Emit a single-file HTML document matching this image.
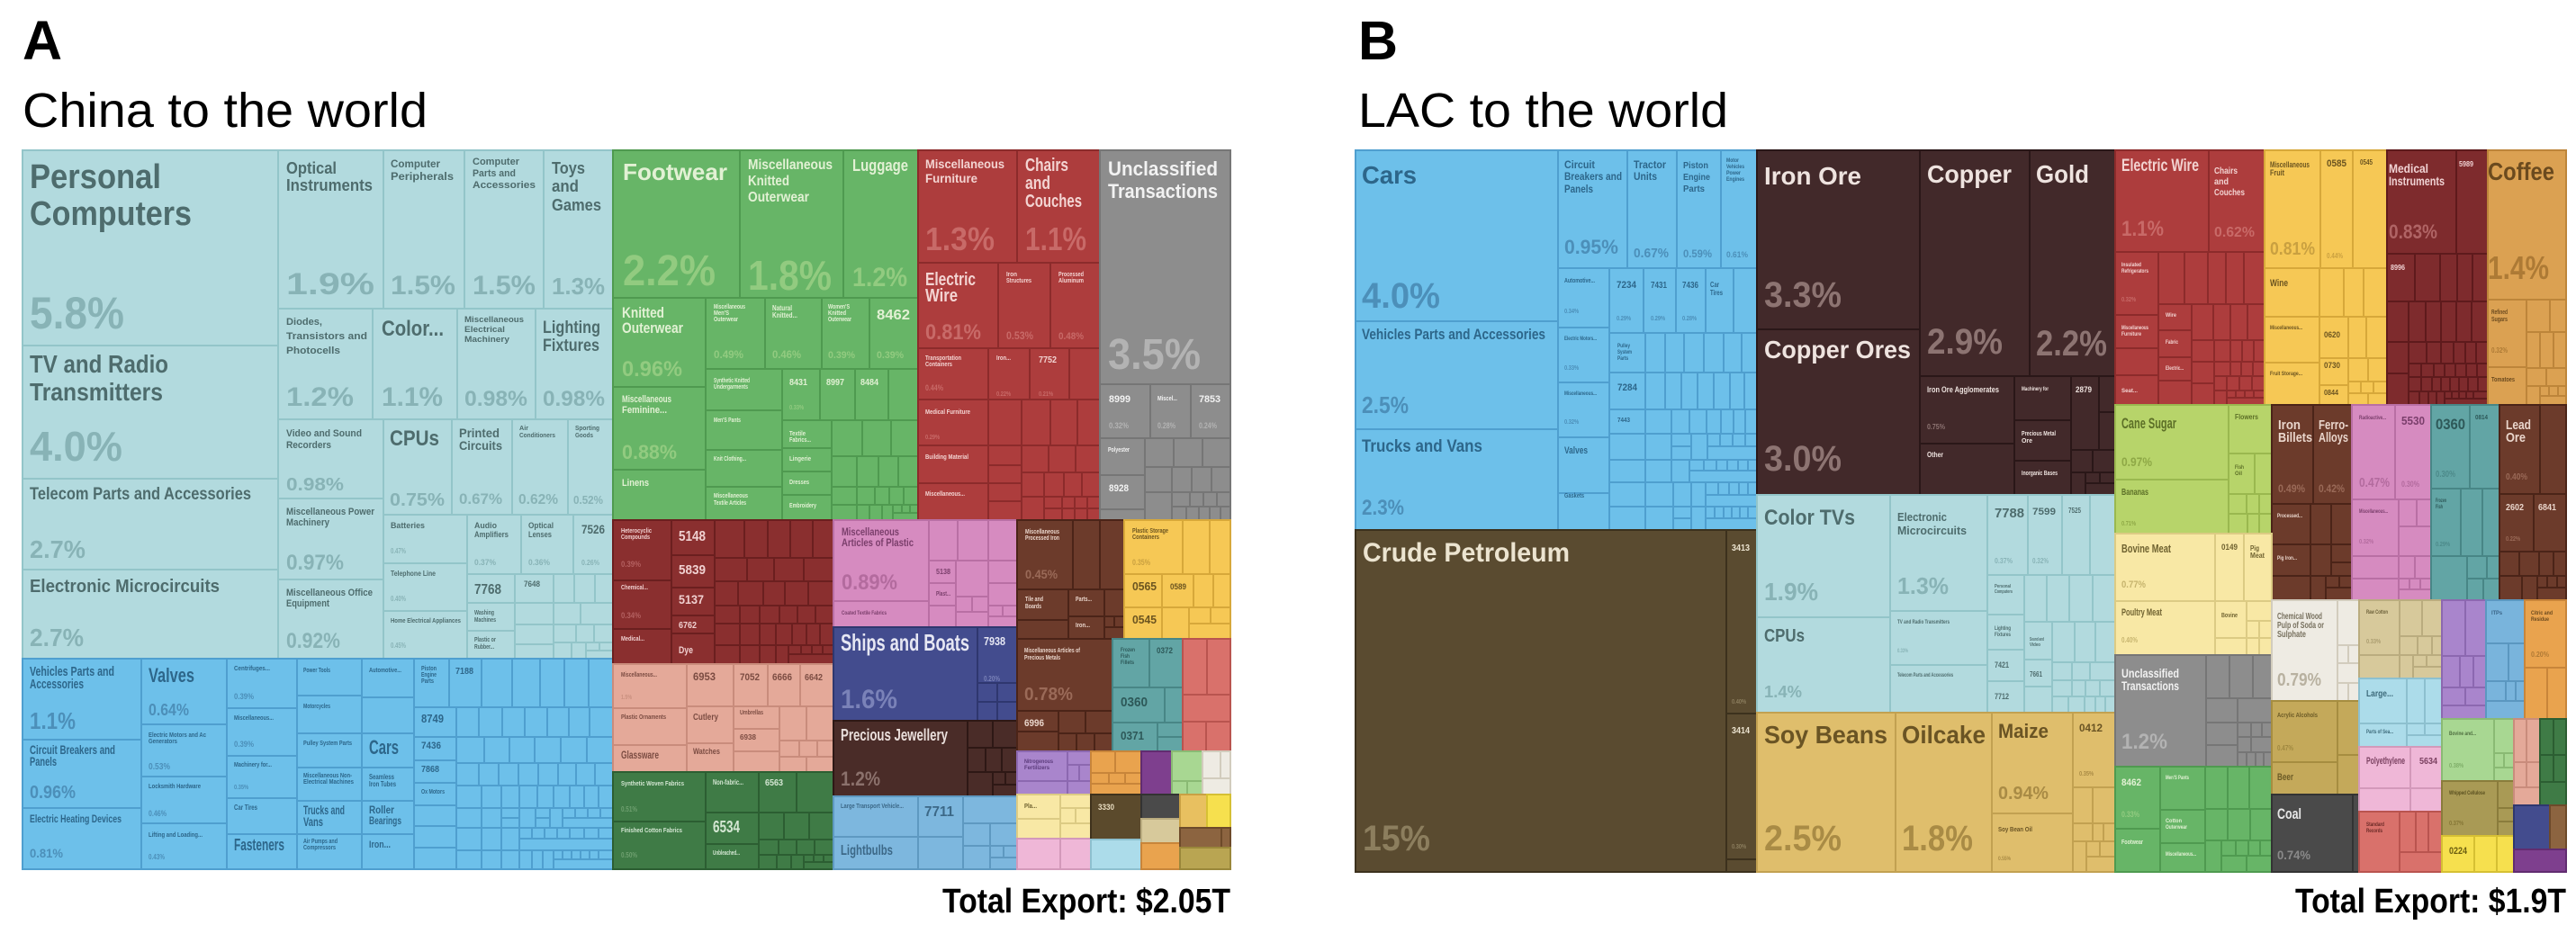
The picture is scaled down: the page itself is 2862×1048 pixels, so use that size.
<!DOCTYPE html>
<html><head><meta charset="utf-8">
<style>
html,body{margin:0;padding:0;background:#fff;}
svg{display:block}
rect{stroke-width:2}
text{font-family:"Liberation Sans","DejaVu Sans",sans-serif;font-weight:700}
.tt text{fill:#000}
.t rect{fill:#b2dade;stroke:#93c5c9}.t text{fill:#4e6c6d}.t text.p{fill:#88b3b6}
.b rect{fill:#6dc0ea;stroke:#4f9fcf}.b text{fill:#2d668a}.b text.p{fill:#4c8fb9}
.g rect{fill:#67b567;stroke:#4f9a50}.g text{fill:#e2f1d4}.g text.p{fill:#92cb80}
.r rect{fill:#ad3d3d;stroke:#8c2b2b}.r text{fill:#f3d4d2}.r text.p{fill:#c86a68}
.y rect{fill:#8d8d8d;stroke:#767676}.y text{fill:#f2f2f2}.y text.p{fill:#b3b3b3}
.dr rect{fill:#8a2f2f;stroke:#6b1f1f}.dr text{fill:#f0d0d0}.dr text.p{fill:#b36060}
.sa rect{fill:#e4a999;stroke:#c98c7c}.sa text{fill:#7b4c42}.sa text.p{fill:#c9907f}
.dg rect{fill:#3f7b46;stroke:#2c5e32}.dg text{fill:#d3e6d2}.dg text.p{fill:#6fa070}
.pk rect{fill:#d68bc0;stroke:#b96fa4}.pk text{fill:#7a3e6b}.pk text.p{fill:#b36b9e}
.nv rect{fill:#434c8e;stroke:#2f376f}.nv text{fill:#e6e7f3}.nv text.p{fill:#7a82b8}
.jw rect{fill:#4a2c28;stroke:#2e1815}.jw text{fill:#eadfdc}.jw text.p{fill:#8b716c}
.lb rect{fill:#7db7de;stroke:#5e99c1}.lb text{fill:#3c6887}.lb text.p{fill:#5f97bf}
.br rect{fill:#6c3b2b;stroke:#4b2418}.br text{fill:#ead6cc}.br text.p{fill:#9a6a58}
.ye rect{fill:#f6c855;stroke:#d7a83a}.ye text{fill:#6b5420}.ye text.p{fill:#c9a040}
.ft rect{fill:#62a5a5;stroke:#488686}.ft text{fill:#2d5858}.ft text.p{fill:#4d8a8a}
.sr rect{fill:#d9716b;stroke:#b9544f}.sr text{fill:#6a2a26}
.lv rect{fill:#a985cc;stroke:#8c68b0}.lv text{fill:#5a3a7a}
.or rect{fill:#e9a34e;stroke:#c8853a}.or text{fill:#6b4a1e}.or text.p{fill:#b07a35}
.pu rect{fill:#7e3f8e;stroke:#612c70}
.lg rect{fill:#a8d792;stroke:#8aba74}.lg text{fill:#4f6f40}.lg text.p{fill:#7fae69}
.ow rect{fill:#eeebe3;stroke:#d2ccbd}.ow text{fill:#77705e}.ow text.p{fill:#b8b1a0}
.py rect{fill:#f8e8a5;stroke:#dccb84}.py text{fill:#6f6230}.py text.p{fill:#c6b46e}
.lp rect{fill:#efb7d7;stroke:#d399ba}.lp text{fill:#7a4060}
.do rect{fill:#5b4a2c;stroke:#3f321c}.do text{fill:#e8dcc0}
.la rect{fill:#acdcea;stroke:#8dc0cf}.la text{fill:#3d6a7a}
.dk rect{fill:#4a4a4a;stroke:#333}.dk text{fill:#e6e6e6}.dk text.p{fill:#8a8a8a}
.kh rect{fill:#d7c99b;stroke:#baac7f}.kh text{fill:#6b5f38}.kh text.p{fill:#ab9d70}
.go rect{fill:#e8c060;stroke:#c9a144}
.yb rect{fill:#f6e04e;stroke:#d6c033}.yb text{fill:#6b5e10}
.bn rect{fill:#8c6440;stroke:#6d4a2a}
.ol rect{fill:#b9a552;stroke:#9a873a}
.io rect{fill:#42292a;stroke:#2a1718}.io text{fill:#eee3df}.io text.p{fill:#8d7472}
.cp rect{fill:#5a4b30;stroke:#3c311d}.cp text{fill:#ece4d0}.cp text.p{fill:#8c7e5e}
.tn rect{fill:#dfbe6c;stroke:#c2a151}.tn text{fill:#6a5424}.tn text.p{fill:#a98b45}
.md rect{fill:#7e2b2d;stroke:#5e1a1c}.md text{fill:#f0d2d3}.md text.p{fill:#b06465}
.cf rect{fill:#dba152;stroke:#bd853a}.cf text{fill:#6b4a1e}.cf text.p{fill:#ad7a35}
.cs rect{fill:#b7d46a;stroke:#9ab84f}.cs text{fill:#5c6f27}.cs text.p{fill:#8ea846}
.ot rect{fill:#c4a95a;stroke:#a68d40}.ot text{fill:#6d5c27}.ot text.p{fill:#9f8840}
.ok rect{fill:#a99a55;stroke:#8a7c3c}.ok text{fill:#5a5020}.ok text.p{fill:#857636}
.mb rect{fill:#79b4dc;stroke:#5b97c0}.mb text{fill:#3a6487}
</style></head>
<body>
<svg width="2862" height="1048" viewBox="0 0 2862 1048" xmlns="http://www.w3.org/2000/svg">
<rect x="0" y="0" width="2862" height="1048" fill="#fff" stroke="none"/>

<!-- TITLES -->
<g class="tt">
<text x="25" y="66" font-size="61">A</text>
<text x="25" y="141" font-size="54" font-weight="400" style="font-weight:400" textLength="450" lengthAdjust="spacingAndGlyphs">China to the world</text>
<text x="1509" y="66" font-size="61">B</text>
<text x="1509" y="141" font-size="54" style="font-weight:400" textLength="411" lengthAdjust="spacingAndGlyphs">LAC to the world</text>
<text x="1047" y="1014" font-size="38" textLength="320" lengthAdjust="spacingAndGlyphs">Total Export: $2.05T</text>
<text x="2550" y="1014" font-size="38" textLength="301" lengthAdjust="spacingAndGlyphs">Total Export: $1.9T</text>
</g>

<!-- ================= LEFT TREEMAP ================= -->
<!-- Teal -->
<g class="t">
<rect x="25" y="167" width="284" height="217"/>
<rect x="25" y="384" width="284" height="148"/>
<rect x="25" y="532" width="284" height="101"/>
<rect x="25" y="633" width="284" height="99"/>
<rect x="309" y="167" width="117" height="176"/>
<rect x="426" y="167" width="90" height="176"/>
<rect x="516" y="167" width="88" height="176"/>
<rect x="604" y="167" width="77" height="176"/>
<rect x="309" y="343" width="105" height="123"/>
<rect x="414" y="343" width="94" height="123"/>
<rect x="508" y="343" width="87" height="123"/>
<rect x="595" y="343" width="86" height="123"/>
<rect x="309" y="466" width="117" height="88"/>
<rect x="309" y="554" width="117" height="90"/>
<rect x="309" y="644" width="117" height="88"/>
<rect x="426" y="466" width="76" height="106"/>
<rect x="502" y="466" width="67" height="106"/>
<rect x="569" y="466" width="62" height="106"/>
<rect x="631" y="466" width="50" height="106"/>
<rect x="426" y="572" width="93" height="54"/>
<rect x="426" y="626" width="93" height="53"/>
<rect x="426" y="679" width="93" height="53"/>
<rect x="519" y="572" width="60" height="66"/>
<rect x="579" y="572" width="58" height="66"/>
<rect x="637" y="572" width="44" height="66"/>
<rect x="519" y="638" width="53" height="32"/>
<rect x="519" y="670" width="53" height="31"/>
<rect x="519" y="701" width="53" height="31"/>
<rect x="572" y="638" width="43" height="32"/><rect x="615" y="638" width="23" height="32"/><rect x="638" y="638" width="23" height="32"/><rect x="661" y="638" width="20" height="32"/>
<rect x="572" y="670" width="43" height="24"/><rect x="572" y="694" width="43" height="22"/><rect x="572" y="716" width="43" height="16"/>
<rect x="615" y="670" width="30" height="24"/><rect x="645" y="670" width="36" height="24"/>
<rect x="615" y="694" width="25" height="20"/><rect x="640" y="694" width="20" height="20"/><rect x="660" y="694" width="21" height="20"/>
<rect x="615" y="714" width="20" height="18"/><rect x="635" y="714" width="16" height="18"/><rect x="651" y="714" width="15" height="9"/><rect x="666" y="714" width="15" height="9"/><rect x="651" y="723" width="30" height="9"/>

<text x="33" y="209" font-size="38" textLength="146" lengthAdjust="spacingAndGlyphs">Personal</text>
<text x="33" y="250" font-size="38" textLength="180" lengthAdjust="spacingAndGlyphs">Computers</text>
<text class="p" x="33" y="365" font-size="50" textLength="105" lengthAdjust="spacingAndGlyphs">5.8%</text>
<text x="33" y="414" font-size="28" textLength="154" lengthAdjust="spacingAndGlyphs">TV and Radio</text>
<text x="33" y="445" font-size="28" textLength="148" lengthAdjust="spacingAndGlyphs">Transmitters</text>
<text class="p" x="33" y="512" font-size="46" textLength="103" lengthAdjust="spacingAndGlyphs">4.0%</text>
<text x="33" y="555" font-size="19" textLength="246" lengthAdjust="spacingAndGlyphs">Telecom Parts and Accessories</text>
<text class="p" x="33" y="620" font-size="28" textLength="62" lengthAdjust="spacingAndGlyphs">2.7%</text>
<text x="33" y="658" font-size="20" textLength="211" lengthAdjust="spacingAndGlyphs">Electronic Microcircuits</text>
<text class="p" x="33" y="718" font-size="28" textLength="60" lengthAdjust="spacingAndGlyphs">2.7%</text>
<text x="318" y="193" font-size="18" textLength="56" lengthAdjust="spacingAndGlyphs">Optical</text>
<text x="318" y="212" font-size="18" textLength="96" lengthAdjust="spacingAndGlyphs">Instruments</text>
<text class="p" x="318" y="327" font-size="34" textLength="98" lengthAdjust="spacingAndGlyphs">1.9%</text>
<text x="434" y="186" font-size="12" textLength="55" lengthAdjust="spacingAndGlyphs">Computer</text>
<text x="434" y="200" font-size="12" textLength="70" lengthAdjust="spacingAndGlyphs">Peripherals</text>
<text class="p" x="434" y="327" font-size="30" textLength="72" lengthAdjust="spacingAndGlyphs">1.5%</text>
<text x="525" y="183" font-size="11" textLength="52" lengthAdjust="spacingAndGlyphs">Computer</text>
<text x="525" y="196" font-size="11" textLength="48" lengthAdjust="spacingAndGlyphs">Parts and</text>
<text x="525" y="209" font-size="11" textLength="70" lengthAdjust="spacingAndGlyphs">Accessories</text>
<text class="p" x="525" y="327" font-size="30" textLength="70" lengthAdjust="spacingAndGlyphs">1.5%</text>
<text x="613" y="193" font-size="18" textLength="37" lengthAdjust="spacingAndGlyphs">Toys</text>
<text x="613" y="213" font-size="18" textLength="30" lengthAdjust="spacingAndGlyphs">and</text>
<text x="613" y="234" font-size="18" textLength="55" lengthAdjust="spacingAndGlyphs">Games</text>
<text class="p" x="613" y="327" font-size="26" textLength="59" lengthAdjust="spacingAndGlyphs">1.3%</text>
<text x="318" y="361" font-size="11" textLength="40" lengthAdjust="spacingAndGlyphs">Diodes,</text>
<text x="318" y="377" font-size="11" textLength="90" lengthAdjust="spacingAndGlyphs">Transistors and</text>
<text x="318" y="393" font-size="11" textLength="60" lengthAdjust="spacingAndGlyphs">Photocells</text>
<text class="p" x="318" y="451" font-size="30" textLength="75" lengthAdjust="spacingAndGlyphs">1.2%</text>
<text x="424" y="373" font-size="24" textLength="69" lengthAdjust="spacingAndGlyphs">Color...</text>
<text class="p" x="424" y="451" font-size="30" textLength="68" lengthAdjust="spacingAndGlyphs">1.1%</text>
<text x="516" y="358" font-size="9" textLength="66" lengthAdjust="spacingAndGlyphs">Miscellaneous</text>
<text x="516" y="369" font-size="9" textLength="45" lengthAdjust="spacingAndGlyphs">Electrical</text>
<text x="516" y="380" font-size="9" textLength="50" lengthAdjust="spacingAndGlyphs">Machinery</text>
<text class="p" x="516" y="451" font-size="24" textLength="70" lengthAdjust="spacingAndGlyphs">0.98%</text>
<text x="603" y="370" font-size="19" textLength="64" lengthAdjust="spacingAndGlyphs">Lighting</text>
<text x="603" y="390" font-size="19" textLength="63" lengthAdjust="spacingAndGlyphs">Fixtures</text>
<text class="p" x="603" y="451" font-size="24" textLength="69" lengthAdjust="spacingAndGlyphs">0.98%</text>
<text x="318" y="485" font-size="11" textLength="84" lengthAdjust="spacingAndGlyphs">Video and Sound</text>
<text x="318" y="498" font-size="11" textLength="50" lengthAdjust="spacingAndGlyphs">Recorders</text>
<text class="p" x="318" y="545" font-size="20" textLength="64" lengthAdjust="spacingAndGlyphs">0.98%</text>
<text x="433" y="495" font-size="24" textLength="55" lengthAdjust="spacingAndGlyphs">CPUs</text>
<text class="p" x="433" y="562" font-size="20" textLength="61" lengthAdjust="spacingAndGlyphs">0.75%</text>
<text x="510" y="486" font-size="14" textLength="45" lengthAdjust="spacingAndGlyphs">Printed</text>
<text x="510" y="500" font-size="14" textLength="48" lengthAdjust="spacingAndGlyphs">Circuits</text>
<text class="p" x="510" y="560" font-size="17" textLength="48" lengthAdjust="spacingAndGlyphs">0.67%</text>
<text x="577" y="478" font-size="7" textLength="10" lengthAdjust="spacingAndGlyphs">Air</text>
<text x="577" y="486" font-size="7" textLength="40" lengthAdjust="spacingAndGlyphs">Conditioners</text>
<text class="p" x="576" y="560" font-size="16" textLength="44" lengthAdjust="spacingAndGlyphs">0.62%</text>
<text x="639" y="478" font-size="7" textLength="27" lengthAdjust="spacingAndGlyphs">Sporting</text>
<text x="639" y="486" font-size="7" textLength="20" lengthAdjust="spacingAndGlyphs">Goods</text>
<text class="p" x="637" y="560" font-size="13" textLength="33" lengthAdjust="spacingAndGlyphs">0.52%</text>
<text x="318" y="572" font-size="11" textLength="98" lengthAdjust="spacingAndGlyphs">Miscellaneous Power</text>
<text x="318" y="584" font-size="11" textLength="48" lengthAdjust="spacingAndGlyphs">Machinery</text>
<text class="p" x="318" y="633" font-size="24" textLength="64" lengthAdjust="spacingAndGlyphs">0.97%</text>
<text x="318" y="662" font-size="11" textLength="96" lengthAdjust="spacingAndGlyphs">Miscellaneous Office</text>
<text x="318" y="674" font-size="11" textLength="48" lengthAdjust="spacingAndGlyphs">Equipment</text>
<text class="p" x="318" y="720" font-size="24" textLength="60" lengthAdjust="spacingAndGlyphs">0.92%</text>
<text x="434" y="587" font-size="9" textLength="38" lengthAdjust="spacingAndGlyphs">Batteries</text>
<text class="p" x="434" y="615" font-size="8" textLength="17" lengthAdjust="spacingAndGlyphs">0.47%</text>
<text x="434" y="640" font-size="8" textLength="50" lengthAdjust="spacingAndGlyphs">Telephone Line</text>
<text class="p" x="434" y="668" font-size="8" textLength="17" lengthAdjust="spacingAndGlyphs">0.40%</text>
<text x="434" y="692" font-size="7" textLength="78" lengthAdjust="spacingAndGlyphs">Home Electrical Appliances</text>
<text class="p" x="434" y="720" font-size="8" textLength="17" lengthAdjust="spacingAndGlyphs">0.45%</text>
<text x="527" y="587" font-size="9" textLength="25" lengthAdjust="spacingAndGlyphs">Audio</text>
<text x="527" y="597" font-size="9" textLength="38" lengthAdjust="spacingAndGlyphs">Amplifiers</text>
<text class="p" x="527" y="628" font-size="9" textLength="24" lengthAdjust="spacingAndGlyphs">0.37%</text>
<text x="587" y="587" font-size="9" textLength="28" lengthAdjust="spacingAndGlyphs">Optical</text>
<text x="587" y="597" font-size="9" textLength="26" lengthAdjust="spacingAndGlyphs">Lenses</text>
<text class="p" x="587" y="628" font-size="9" textLength="24" lengthAdjust="spacingAndGlyphs">0.36%</text>
<text x="646" y="593" font-size="14" textLength="26" lengthAdjust="spacingAndGlyphs">7526</text>
<text class="p" x="646" y="628" font-size="8" textLength="20" lengthAdjust="spacingAndGlyphs">0.26%</text>
<text x="527" y="660" font-size="16" textLength="30" lengthAdjust="spacingAndGlyphs">7768</text>
<text x="582" y="652" font-size="9" textLength="18" lengthAdjust="spacingAndGlyphs">7648</text>
<text x="527" y="683" font-size="7" textLength="22" lengthAdjust="spacingAndGlyphs">Washing</text>
<text x="527" y="691" font-size="7" textLength="24" lengthAdjust="spacingAndGlyphs">Machines</text>
<text x="527" y="713" font-size="7" textLength="24" lengthAdjust="spacingAndGlyphs">Plastic or</text>
<text x="527" y="721" font-size="7" textLength="22" lengthAdjust="spacingAndGlyphs">Rubber...</text>
</g>

<!-- Blue (left) -->
<g class="b">
<rect x="25" y="732" width="132" height="90"/>
<rect x="25" y="822" width="132" height="76"/>
<rect x="25" y="898" width="132" height="68"/>
<rect x="157" y="732" width="95" height="73"/>
<rect x="157" y="805" width="95" height="58"/>
<rect x="157" y="863" width="95" height="52"/>
<rect x="157" y="915" width="95" height="51"/>
<rect x="252" y="732" width="78" height="55"/>
<rect x="252" y="787" width="78" height="53"/>
<rect x="252" y="840" width="78" height="47"/>
<rect x="252" y="887" width="78" height="40"/>
<rect x="252" y="927" width="78" height="39"/>
<rect x="330" y="732" width="72" height="41"/>
<rect x="330" y="773" width="72" height="42"/>
<rect x="330" y="815" width="72" height="38"/>
<rect x="330" y="853" width="72" height="37"/>
<rect x="330" y="890" width="72" height="37"/>
<rect x="330" y="927" width="72" height="39"/>
<rect x="402" y="732" width="58" height="43"/>
<rect x="402" y="775" width="58" height="40"/>
<rect x="402" y="815" width="58" height="38"/>
<rect x="402" y="853" width="58" height="37"/>
<rect x="402" y="890" width="58" height="37"/>
<rect x="402" y="927" width="58" height="39"/>
<rect x="460" y="732" width="39" height="54"/>
<rect x="499" y="732" width="36" height="54"/><rect x="535" y="732" width="34" height="54"/><rect x="569" y="732" width="31" height="54"/><rect x="600" y="732" width="27" height="54"/><rect x="627" y="732" width="27" height="54"/><rect x="654" y="732" width="27" height="54"/>
<rect x="460" y="786" width="47" height="33"/><rect x="460" y="819" width="47" height="26"/><rect x="460" y="845" width="47" height="25"/><rect x="460" y="870" width="47" height="25"/><rect x="460" y="895" width="47" height="23"/><rect x="460" y="918" width="47" height="24"/><rect x="460" y="942" width="47" height="24"/>
<rect x="507" y="786" width="25" height="33"/><rect x="532" y="786" width="26" height="33"/><rect x="558" y="786" width="25" height="33"/><rect x="583" y="786" width="25" height="33"/><rect x="608" y="786" width="24" height="33"/><rect x="632" y="786" width="23" height="33"/><rect x="655" y="786" width="26" height="33"/>
<rect x="507" y="819" width="31" height="29"/><rect x="538" y="819" width="28" height="29"/><rect x="566" y="819" width="28" height="29"/><rect x="594" y="819" width="29" height="29"/><rect x="623" y="819" width="29" height="29"/><rect x="652" y="819" width="29" height="29"/>
<rect x="507" y="848" width="25" height="25"/><rect x="532" y="848" width="22" height="25"/><rect x="554" y="848" width="22" height="25"/><rect x="576" y="848" width="22" height="25"/><rect x="598" y="848" width="22" height="25"/><rect x="620" y="848" width="20" height="25"/><rect x="640" y="848" width="21" height="25"/><rect x="661" y="848" width="20" height="25"/>
<rect x="507" y="873" width="28" height="25"/><rect x="535" y="873" width="22" height="25"/><rect x="557" y="873" width="20" height="25"/><rect x="577" y="873" width="20" height="25"/><rect x="597" y="873" width="18" height="25"/><rect x="615" y="873" width="18" height="25"/><rect x="633" y="873" width="16" height="25"/><rect x="649" y="873" width="16" height="25"/><rect x="665" y="873" width="16" height="25"/>
<rect x="507" y="898" width="28" height="22"/><rect x="535" y="898" width="22" height="22"/><rect x="557" y="898" width="20" height="11"/><rect x="557" y="909" width="20" height="11"/><rect x="577" y="898" width="18" height="22"/><rect x="595" y="898" width="16" height="11"/><rect x="595" y="909" width="16" height="11"/><rect x="611" y="898" width="14" height="22"/><rect x="625" y="898" width="14" height="11"/><rect x="639" y="898" width="14" height="11"/><rect x="653" y="898" width="14" height="11"/><rect x="667" y="898" width="14" height="11"/><rect x="625" y="909" width="56" height="11"/>
<rect x="507" y="920" width="28" height="25"/><rect x="535" y="920" width="22" height="25"/><rect x="557" y="920" width="20" height="25"/><rect x="577" y="920" width="14" height="12"/><rect x="591" y="920" width="14" height="12"/><rect x="605" y="920" width="14" height="12"/><rect x="619" y="920" width="14" height="12"/><rect x="633" y="920" width="16" height="12"/><rect x="649" y="920" width="16" height="12"/><rect x="665" y="920" width="16" height="12"/><rect x="577" y="932" width="104" height="13"/>
<rect x="507" y="945" width="28" height="21"/><rect x="535" y="945" width="22" height="21"/><rect x="557" y="945" width="20" height="21"/><rect x="577" y="945" width="14" height="21"/><rect x="591" y="945" width="12" height="21"/><rect x="603" y="945" width="12" height="21"/><rect x="615" y="945" width="10" height="10"/><rect x="625" y="945" width="10" height="10"/><rect x="635" y="945" width="10" height="10"/><rect x="645" y="945" width="10" height="10"/><rect x="655" y="945" width="10" height="10"/><rect x="665" y="945" width="16" height="10"/><rect x="615" y="955" width="66" height="11"/>

<text x="33" y="751" font-size="15" textLength="94" lengthAdjust="spacingAndGlyphs">Vehicles Parts and</text>
<text x="33" y="765" font-size="15" textLength="60" lengthAdjust="spacingAndGlyphs">Accessories</text>
<text class="p" x="33" y="810" font-size="26" textLength="51" lengthAdjust="spacingAndGlyphs">1.1%</text>
<text x="165" y="758" font-size="22" textLength="51" lengthAdjust="spacingAndGlyphs">Valves</text>
<text class="p" x="165" y="795" font-size="18" textLength="45" lengthAdjust="spacingAndGlyphs">0.64%</text>
<text x="33" y="838" font-size="14" textLength="95" lengthAdjust="spacingAndGlyphs">Circuit Breakers and</text>
<text x="33" y="851" font-size="14" textLength="30" lengthAdjust="spacingAndGlyphs">Panels</text>
<text class="p" x="33" y="887" font-size="20" textLength="51" lengthAdjust="spacingAndGlyphs">0.96%</text>
<text x="33" y="914" font-size="12" textLength="102" lengthAdjust="spacingAndGlyphs">Electric Heating Devices</text>
<text class="p" x="33" y="953" font-size="14" textLength="37" lengthAdjust="spacingAndGlyphs">0.81%</text>
<text x="165" y="819" font-size="7" textLength="64" lengthAdjust="spacingAndGlyphs">Electric Motors and Ac</text>
<text x="165" y="826" font-size="7" textLength="32" lengthAdjust="spacingAndGlyphs">Generators</text>
<text class="p" x="165" y="855" font-size="10" textLength="24" lengthAdjust="spacingAndGlyphs">0.53%</text>
<text x="165" y="876" font-size="7" textLength="58" lengthAdjust="spacingAndGlyphs">Locksmith Hardware</text>
<text class="p" x="165" y="907" font-size="9" textLength="20" lengthAdjust="spacingAndGlyphs">0.46%</text>
<text x="165" y="930" font-size="7" textLength="60" lengthAdjust="spacingAndGlyphs">Lifting and Loading...</text>
<text class="p" x="165" y="955" font-size="8" textLength="18" lengthAdjust="spacingAndGlyphs">0.43%</text>
<text x="260" y="745" font-size="7" textLength="40" lengthAdjust="spacingAndGlyphs">Centrifuges...</text>
<text class="p" x="260" y="777" font-size="9" textLength="22" lengthAdjust="spacingAndGlyphs">0.39%</text>
<text x="260" y="800" font-size="7" textLength="44" lengthAdjust="spacingAndGlyphs">Miscellaneous...</text>
<text class="p" x="260" y="830" font-size="9" textLength="22" lengthAdjust="spacingAndGlyphs">0.39%</text>
<text x="260" y="852" font-size="7" textLength="42" lengthAdjust="spacingAndGlyphs">Machinery for...</text>
<text class="p" x="260" y="877" font-size="7" textLength="16" lengthAdjust="spacingAndGlyphs">0.35%</text>
<text x="260" y="900" font-size="8" textLength="26" lengthAdjust="spacingAndGlyphs">Car Tires</text>
<text x="260" y="945" font-size="18" textLength="56" lengthAdjust="spacingAndGlyphs">Fasteners</text>
<text x="337" y="747" font-size="7" textLength="30" lengthAdjust="spacingAndGlyphs">Power Tools</text>
<text x="337" y="787" font-size="7" textLength="30" lengthAdjust="spacingAndGlyphs">Motorcycles</text>
<text x="337" y="828" font-size="7" textLength="54" lengthAdjust="spacingAndGlyphs">Pulley System Parts</text>
<text x="337" y="864" font-size="7" textLength="54" lengthAdjust="spacingAndGlyphs">Miscellaneous Non-</text>
<text x="337" y="871" font-size="7" textLength="56" lengthAdjust="spacingAndGlyphs">Electrical Machines</text>
<text x="337" y="905" font-size="14" textLength="46" lengthAdjust="spacingAndGlyphs">Trucks and</text>
<text x="337" y="918" font-size="14" textLength="22" lengthAdjust="spacingAndGlyphs">Vans</text>
<text x="337" y="937" font-size="7" textLength="38" lengthAdjust="spacingAndGlyphs">Air Pumps and</text>
<text x="337" y="944" font-size="7" textLength="36" lengthAdjust="spacingAndGlyphs">Compressors</text>
<text x="410" y="747" font-size="7" textLength="36" lengthAdjust="spacingAndGlyphs">Automotive...</text>
<text x="410" y="838" font-size="22" textLength="33" lengthAdjust="spacingAndGlyphs">Cars</text>
<text x="410" y="866" font-size="8" textLength="28" lengthAdjust="spacingAndGlyphs">Seamless</text>
<text x="410" y="874" font-size="8" textLength="30" lengthAdjust="spacingAndGlyphs">Iron Tubes</text>
<text x="410" y="904" font-size="12" textLength="28" lengthAdjust="spacingAndGlyphs">Roller</text>
<text x="410" y="916" font-size="12" textLength="36" lengthAdjust="spacingAndGlyphs">Bearings</text>
<text x="410" y="942" font-size="11" textLength="24" lengthAdjust="spacingAndGlyphs">Iron...</text>
<text x="468" y="745" font-size="7" textLength="17" lengthAdjust="spacingAndGlyphs">Piston</text>
<text x="468" y="752" font-size="7" textLength="17" lengthAdjust="spacingAndGlyphs">Engine</text>
<text x="468" y="759" font-size="7" textLength="14" lengthAdjust="spacingAndGlyphs">Parts</text>
<text x="506" y="749" font-size="10" textLength="20" lengthAdjust="spacingAndGlyphs">7188</text>
<text x="468" y="803" font-size="13" textLength="25" lengthAdjust="spacingAndGlyphs">8749</text>
<text x="468" y="832" font-size="11" textLength="22" lengthAdjust="spacingAndGlyphs">7436</text>
<text x="468" y="858" font-size="10" textLength="20" lengthAdjust="spacingAndGlyphs">7868</text>
<text x="468" y="882" font-size="7" textLength="26" lengthAdjust="spacingAndGlyphs">Ox Motors</text>
</g>

<!-- Green (left) -->
<g class="g">
<rect x="681" y="167" width="141" height="164"/>
<rect x="822" y="167" width="115" height="164"/>
<rect x="937" y="167" width="83" height="164"/>
<rect x="681" y="331" width="103" height="99"/>
<rect x="681" y="430" width="103" height="92"/>
<rect x="681" y="522" width="103" height="56"/>
<rect x="784" y="331" width="66" height="79"/>
<rect x="850" y="331" width="63" height="79"/>
<rect x="913" y="331" width="53" height="79"/>
<rect x="966" y="331" width="54" height="79"/>
<rect x="784" y="410" width="85" height="46"/>
<rect x="784" y="456" width="85" height="44"/>
<rect x="784" y="500" width="85" height="41"/>
<rect x="784" y="541" width="85" height="37"/>
<rect x="869" y="410" width="42" height="57"/><rect x="911" y="410" width="39" height="57"/><rect x="950" y="410" width="37" height="57"/><rect x="987" y="410" width="33" height="57"/>
<rect x="869" y="467" width="55" height="31"/><rect x="869" y="498" width="55" height="26"/><rect x="869" y="524" width="55" height="26"/><rect x="869" y="550" width="55" height="28"/>
<rect x="924" y="467" width="34" height="40"/><rect x="958" y="467" width="32" height="40"/><rect x="990" y="467" width="30" height="40"/>
<rect x="924" y="507" width="28" height="34"/><rect x="952" y="507" width="24" height="34"/><rect x="976" y="507" width="22" height="34"/><rect x="998" y="507" width="22" height="34"/>
<rect x="924" y="541" width="28" height="20"/><rect x="924" y="561" width="28" height="17"/><rect x="952" y="541" width="20" height="20"/><rect x="972" y="541" width="16" height="20"/><rect x="988" y="541" width="16" height="20"/><rect x="1004" y="541" width="16" height="20"/><rect x="952" y="561" width="14" height="17"/><rect x="966" y="561" width="14" height="17"/><rect x="980" y="561" width="12" height="17"/><rect x="992" y="561" width="10" height="9"/><rect x="1002" y="561" width="9" height="9"/><rect x="1011" y="561" width="9" height="9"/><rect x="992" y="570" width="28" height="8"/>

<text x="692" y="200" font-size="26" textLength="116" lengthAdjust="spacingAndGlyphs">Footwear</text>
<text class="p" x="692" y="317" font-size="48" textLength="103" lengthAdjust="spacingAndGlyphs">2.2%</text>
<text x="831" y="188" font-size="16" textLength="94" lengthAdjust="spacingAndGlyphs">Miscellaneous</text>
<text x="831" y="206" font-size="16" textLength="46" lengthAdjust="spacingAndGlyphs">Knitted</text>
<text x="831" y="224" font-size="16" textLength="68" lengthAdjust="spacingAndGlyphs">Outerwear</text>
<text class="p" x="831" y="322" font-size="46" textLength="93" lengthAdjust="spacingAndGlyphs">1.8%</text>
<text x="947" y="190" font-size="18" textLength="62" lengthAdjust="spacingAndGlyphs">Luggage</text>
<text class="p" x="947" y="318" font-size="30" textLength="61" lengthAdjust="spacingAndGlyphs">1.2%</text>
<text x="691" y="353" font-size="17" textLength="47" lengthAdjust="spacingAndGlyphs">Knitted</text>
<text x="691" y="370" font-size="17" textLength="68" lengthAdjust="spacingAndGlyphs">Outerwear</text>
<text class="p" x="691" y="418" font-size="24" textLength="67" lengthAdjust="spacingAndGlyphs">0.96%</text>
<text x="793" y="343" font-size="7" textLength="35" lengthAdjust="spacingAndGlyphs">Miscellaneous</text>
<text x="793" y="350" font-size="7" textLength="17" lengthAdjust="spacingAndGlyphs">Men'S</text>
<text x="793" y="357" font-size="7" textLength="27" lengthAdjust="spacingAndGlyphs">Outerwear</text>
<text class="p" x="793" y="398" font-size="12" textLength="33" lengthAdjust="spacingAndGlyphs">0.49%</text>
<text x="858" y="345" font-size="8" textLength="22" lengthAdjust="spacingAndGlyphs">Natural</text>
<text x="858" y="353" font-size="8" textLength="28" lengthAdjust="spacingAndGlyphs">Knitted...</text>
<text class="p" x="858" y="398" font-size="12" textLength="32" lengthAdjust="spacingAndGlyphs">0.46%</text>
<text x="920" y="343" font-size="7" textLength="24" lengthAdjust="spacingAndGlyphs">Women'S</text>
<text x="920" y="350" font-size="7" textLength="20" lengthAdjust="spacingAndGlyphs">Knitted</text>
<text x="920" y="357" font-size="7" textLength="26" lengthAdjust="spacingAndGlyphs">Outerwear</text>
<text class="p" x="920" y="398" font-size="11" textLength="30" lengthAdjust="spacingAndGlyphs">0.39%</text>
<text x="974" y="355" font-size="16" textLength="37" lengthAdjust="spacingAndGlyphs">8462</text>
<text class="p" x="974" y="398" font-size="11" textLength="30" lengthAdjust="spacingAndGlyphs">0.39%</text>
<text x="691" y="447" font-size="11" textLength="55" lengthAdjust="spacingAndGlyphs">Miscellaneous</text>
<text x="691" y="459" font-size="11" textLength="50" lengthAdjust="spacingAndGlyphs">Feminine...</text>
<text class="p" x="691" y="510" font-size="22" textLength="61" lengthAdjust="spacingAndGlyphs">0.88%</text>
<text x="691" y="540" font-size="11" textLength="30" lengthAdjust="spacingAndGlyphs">Linens</text>
<text x="793" y="425" font-size="7" textLength="40" lengthAdjust="spacingAndGlyphs">Synthetic Knitted</text>
<text x="793" y="432" font-size="7" textLength="38" lengthAdjust="spacingAndGlyphs">Undergarments</text>
<text x="793" y="469" font-size="7" textLength="30" lengthAdjust="spacingAndGlyphs">Men'S Pants</text>
<text x="793" y="512" font-size="7" textLength="36" lengthAdjust="spacingAndGlyphs">Knit Clothing...</text>
<text x="793" y="553" font-size="7" textLength="38" lengthAdjust="spacingAndGlyphs">Miscellaneous</text>
<text x="793" y="561" font-size="7" textLength="36" lengthAdjust="spacingAndGlyphs">Textile Articles</text>
<text x="877" y="428" font-size="10" textLength="20" lengthAdjust="spacingAndGlyphs">8431</text>
<text x="918" y="428" font-size="10" textLength="20" lengthAdjust="spacingAndGlyphs">8997</text>
<text x="956" y="428" font-size="10" textLength="20" lengthAdjust="spacingAndGlyphs">8484</text>
<text class="p" x="877" y="455" font-size="7" textLength="16" lengthAdjust="spacingAndGlyphs">0.33%</text>
<text x="877" y="484" font-size="7" textLength="18" lengthAdjust="spacingAndGlyphs">Textile</text>
<text x="877" y="491" font-size="7" textLength="24" lengthAdjust="spacingAndGlyphs">Fabrics...</text>
<text x="877" y="512" font-size="7" textLength="24" lengthAdjust="spacingAndGlyphs">Lingerie</text>
<text x="877" y="538" font-size="7" textLength="22" lengthAdjust="spacingAndGlyphs">Dresses</text>
<text x="877" y="564" font-size="7" textLength="30" lengthAdjust="spacingAndGlyphs">Embroidery</text>
</g>

<!-- Red (left) -->
<g class="r">
<rect x="1020" y="167" width="110" height="125"/>
<rect x="1130" y="167" width="92" height="125"/>
<rect x="1020" y="292" width="89" height="95"/>
<rect x="1109" y="292" width="58" height="95"/>
<rect x="1167" y="292" width="55" height="95"/>
<rect x="1020" y="387" width="78" height="57"/>
<rect x="1098" y="387" width="46" height="57"/>
<rect x="1144" y="387" width="44" height="57"/>
<rect x="1188" y="387" width="34" height="57"/>
<rect x="1020" y="444" width="78" height="51"/>
<rect x="1020" y="495" width="78" height="42"/>
<rect x="1020" y="537" width="78" height="41"/>
<rect x="1098" y="444" width="37" height="51"/><rect x="1135" y="444" width="32" height="51"/><rect x="1167" y="444" width="30" height="51"/><rect x="1197" y="444" width="25" height="51"/>
<rect x="1098" y="495" width="37" height="22"/><rect x="1098" y="517" width="37" height="20"/><rect x="1098" y="537" width="37" height="20"/><rect x="1098" y="557" width="37" height="21"/>
<rect x="1135" y="495" width="30" height="30"/><rect x="1165" y="495" width="30" height="30"/><rect x="1195" y="495" width="27" height="30"/>
<rect x="1135" y="525" width="25" height="27"/><rect x="1160" y="525" width="22" height="27"/><rect x="1182" y="525" width="20" height="27"/><rect x="1202" y="525" width="20" height="27"/>
<rect x="1135" y="552" width="25" height="26"/><rect x="1160" y="552" width="20" height="13"/><rect x="1160" y="565" width="20" height="13"/><rect x="1180" y="552" width="14" height="13"/><rect x="1194" y="552" width="14" height="13"/><rect x="1208" y="552" width="14" height="13"/><rect x="1180" y="565" width="14" height="13"/><rect x="1194" y="565" width="14" height="13"/><rect x="1208" y="565" width="14" height="13"/>

<text x="1028" y="187" font-size="14" textLength="88" lengthAdjust="spacingAndGlyphs">Miscellaneous</text>
<text x="1028" y="203" font-size="14" textLength="58" lengthAdjust="spacingAndGlyphs">Furniture</text>
<text class="p" x="1028" y="278" font-size="36" textLength="77" lengthAdjust="spacingAndGlyphs">1.3%</text>
<text x="1139" y="190" font-size="20" textLength="48" lengthAdjust="spacingAndGlyphs">Chairs</text>
<text x="1139" y="210" font-size="20" textLength="28" lengthAdjust="spacingAndGlyphs">and</text>
<text x="1139" y="230" font-size="20" textLength="63" lengthAdjust="spacingAndGlyphs">Couches</text>
<text class="p" x="1139" y="278" font-size="36" textLength="68" lengthAdjust="spacingAndGlyphs">1.1%</text>
<text x="1028" y="317" font-size="20" textLength="56" lengthAdjust="spacingAndGlyphs">Electric</text>
<text x="1028" y="335" font-size="20" textLength="36" lengthAdjust="spacingAndGlyphs">Wire</text>
<text class="p" x="1028" y="377" font-size="24" textLength="62" lengthAdjust="spacingAndGlyphs">0.81%</text>
<text x="1118" y="307" font-size="7" textLength="12" lengthAdjust="spacingAndGlyphs">Iron</text>
<text x="1118" y="314" font-size="7" textLength="28" lengthAdjust="spacingAndGlyphs">Structures</text>
<text class="p" x="1118" y="377" font-size="12" textLength="30" lengthAdjust="spacingAndGlyphs">0.53%</text>
<text x="1176" y="307" font-size="7" textLength="28" lengthAdjust="spacingAndGlyphs">Processed</text>
<text x="1176" y="314" font-size="7" textLength="28" lengthAdjust="spacingAndGlyphs">Aluminum</text>
<text class="p" x="1176" y="377" font-size="11" textLength="28" lengthAdjust="spacingAndGlyphs">0.48%</text>
<text x="1028" y="400" font-size="7" textLength="40" lengthAdjust="spacingAndGlyphs">Transportation</text>
<text x="1028" y="407" font-size="7" textLength="30" lengthAdjust="spacingAndGlyphs">Containers</text>
<text class="p" x="1028" y="434" font-size="9" textLength="20" lengthAdjust="spacingAndGlyphs">0.44%</text>
<text x="1107" y="400" font-size="7" textLength="16" lengthAdjust="spacingAndGlyphs">Iron...</text>
<text x="1154" y="403" font-size="10" textLength="20" lengthAdjust="spacingAndGlyphs">7752</text>
<text class="p" x="1107" y="440" font-size="7" textLength="16" lengthAdjust="spacingAndGlyphs">0.22%</text>
<text class="p" x="1154" y="440" font-size="7" textLength="16" lengthAdjust="spacingAndGlyphs">0.21%</text>
<text x="1028" y="460" font-size="7" textLength="50" lengthAdjust="spacingAndGlyphs">Medical Furniture</text>
<text class="p" x="1028" y="488" font-size="7" textLength="16" lengthAdjust="spacingAndGlyphs">0.29%</text>
<text x="1028" y="510" font-size="7" textLength="48" lengthAdjust="spacingAndGlyphs">Building Material</text>
<text x="1028" y="551" font-size="7" textLength="44" lengthAdjust="spacingAndGlyphs">Miscellaneous...</text>
</g>

<!-- Gray (left) -->
<g class="y">
<rect x="1222" y="167" width="145" height="260"/>
<rect x="1222" y="427" width="56" height="60"/>
<rect x="1278" y="427" width="45" height="60"/>
<rect x="1323" y="427" width="44" height="60"/>
<rect x="1222" y="487" width="50" height="41"/>
<rect x="1222" y="528" width="50" height="38"/>
<rect x="1222" y="566" width="50" height="12"/>
<rect x="1272" y="487" width="32" height="32"/><rect x="1304" y="487" width="32" height="32"/><rect x="1336" y="487" width="31" height="32"/>
<rect x="1272" y="519" width="30" height="28"/><rect x="1302" y="519" width="22" height="28"/><rect x="1324" y="519" width="22" height="28"/><rect x="1346" y="519" width="21" height="28"/>
<rect x="1272" y="547" width="30" height="31"/><rect x="1302" y="547" width="20" height="16"/><rect x="1322" y="547" width="15" height="16"/><rect x="1337" y="547" width="15" height="16"/><rect x="1352" y="547" width="15" height="16"/><rect x="1302" y="563" width="16" height="15"/><rect x="1318" y="563" width="14" height="15"/><rect x="1332" y="563" width="12" height="15"/><rect x="1344" y="563" width="12" height="15"/><rect x="1356" y="563" width="11" height="15"/>

<text x="1231" y="195" font-size="22" textLength="122" lengthAdjust="spacingAndGlyphs">Unclassified</text>
<text x="1231" y="220" font-size="22" textLength="122" lengthAdjust="spacingAndGlyphs">Transactions</text>
<text class="p" x="1231" y="410" font-size="48" textLength="103" lengthAdjust="spacingAndGlyphs">3.5%</text>
<text x="1232" y="447" font-size="11" textLength="24" lengthAdjust="spacingAndGlyphs">8999</text>
<text class="p" x="1232" y="476" font-size="9" textLength="22" lengthAdjust="spacingAndGlyphs">0.32%</text>
<text x="1286" y="445" font-size="7" textLength="22" lengthAdjust="spacingAndGlyphs">Miscel...</text>
<text class="p" x="1286" y="476" font-size="9" textLength="20" lengthAdjust="spacingAndGlyphs">0.28%</text>
<text x="1332" y="447" font-size="11" textLength="24" lengthAdjust="spacingAndGlyphs">7853</text>
<text class="p" x="1332" y="476" font-size="9" textLength="20" lengthAdjust="spacingAndGlyphs">0.24%</text>
<text x="1231" y="502" font-size="7" textLength="24" lengthAdjust="spacingAndGlyphs">Polyester</text>
<text x="1232" y="546" font-size="11" textLength="22" lengthAdjust="spacingAndGlyphs">8928</text>
</g>

<!-- Dark red chemicals -->
<g class="dr">
<rect x="681" y="578" width="65" height="67"/>
<rect x="681" y="645" width="65" height="54"/>
<rect x="681" y="699" width="65" height="39"/>
<rect x="746" y="578" width="48" height="39"/>
<rect x="746" y="617" width="48" height="36"/>
<rect x="746" y="653" width="48" height="31"/>
<rect x="746" y="684" width="48" height="20"/>
<rect x="746" y="704" width="48" height="34"/>
<rect x="794" y="578" width="33" height="42"/><rect x="827" y="578" width="26" height="42"/><rect x="853" y="578" width="25" height="42"/><rect x="878" y="578" width="25" height="42"/><rect x="903" y="578" width="23" height="42"/>
<rect x="794" y="620" width="36" height="26"/><rect x="830" y="620" width="30" height="26"/><rect x="860" y="620" width="33" height="26"/><rect x="893" y="620" width="33" height="26"/>
<rect x="794" y="646" width="26" height="27"/><rect x="820" y="646" width="28" height="27"/><rect x="848" y="646" width="24" height="27"/><rect x="872" y="646" width="26" height="27"/><rect x="898" y="646" width="28" height="27"/>
<rect x="794" y="673" width="28" height="20"/><rect x="822" y="673" width="22" height="20"/><rect x="844" y="673" width="22" height="20"/><rect x="866" y="673" width="20" height="20"/><rect x="886" y="673" width="20" height="20"/><rect x="906" y="673" width="20" height="20"/>
<rect x="794" y="693" width="28" height="24"/><rect x="822" y="693" width="22" height="24"/><rect x="844" y="693" width="18" height="24"/><rect x="862" y="693" width="18" height="24"/><rect x="880" y="693" width="16" height="24"/><rect x="896" y="693" width="15" height="24"/><rect x="911" y="693" width="15" height="24"/>
<rect x="794" y="717" width="28" height="21"/><rect x="822" y="717" width="22" height="21"/><rect x="844" y="717" width="18" height="21"/><rect x="862" y="717" width="14" height="21"/><rect x="876" y="717" width="14" height="10"/><rect x="890" y="717" width="12" height="10"/><rect x="902" y="717" width="12" height="10"/><rect x="914" y="717" width="12" height="10"/><rect x="876" y="727" width="50" height="11"/>
<text x="690" y="592" font-size="7" textLength="34" lengthAdjust="spacingAndGlyphs">Heterocyclic</text>
<text x="690" y="599" font-size="7" textLength="32" lengthAdjust="spacingAndGlyphs">Compounds</text>
<text class="p" x="690" y="630" font-size="9" textLength="22" lengthAdjust="spacingAndGlyphs">0.39%</text>
<text x="754" y="601" font-size="16" textLength="30" lengthAdjust="spacingAndGlyphs">5148</text>
<text x="754" y="638" font-size="15" textLength="30" lengthAdjust="spacingAndGlyphs">5839</text>
<text x="690" y="655" font-size="7" textLength="30" lengthAdjust="spacingAndGlyphs">Chemical...</text>
<text class="p" x="690" y="687" font-size="9" textLength="22" lengthAdjust="spacingAndGlyphs">0.34%</text>
<text x="754" y="671" font-size="14" textLength="28" lengthAdjust="spacingAndGlyphs">5137</text>
<text x="754" y="698" font-size="10" textLength="20" lengthAdjust="spacingAndGlyphs">6762</text>
<text x="690" y="712" font-size="7" textLength="26" lengthAdjust="spacingAndGlyphs">Medical...</text>
<text x="754" y="726" font-size="11" textLength="16" lengthAdjust="spacingAndGlyphs">Dye</text>
</g>

<!-- Salmon -->
<g class="sa">
<rect x="681" y="738" width="82" height="49"/>
<rect x="681" y="787" width="82" height="41"/>
<rect x="681" y="828" width="82" height="30"/>
<rect x="763" y="738" width="52" height="47"/>
<rect x="815" y="738" width="38" height="47"/>
<rect x="853" y="738" width="36" height="47"/>
<rect x="889" y="738" width="37" height="47"/>
<rect x="763" y="785" width="52" height="41"/>
<rect x="763" y="826" width="52" height="32"/>
<rect x="815" y="785" width="51" height="25"/>
<rect x="815" y="810" width="51" height="25"/>
<rect x="815" y="835" width="51" height="23"/>
<rect x="866" y="785" width="30" height="38"/><rect x="896" y="785" width="30" height="38"/><rect x="866" y="823" width="22" height="18"/><rect x="888" y="823" width="20" height="18"/><rect x="908" y="823" width="18" height="18"/><rect x="866" y="841" width="30" height="17"/><rect x="896" y="841" width="30" height="17"/>
<text x="690" y="752" font-size="7" textLength="40" lengthAdjust="spacingAndGlyphs">Miscellaneous...</text>
<text class="p" x="690" y="777" font-size="7" textLength="12" lengthAdjust="spacingAndGlyphs">1.5%</text>
<text x="770" y="756" font-size="12" textLength="25" lengthAdjust="spacingAndGlyphs">6953</text>
<text x="822" y="756" font-size="11" textLength="22" lengthAdjust="spacingAndGlyphs">7052</text>
<text x="858" y="756" font-size="11" textLength="22" lengthAdjust="spacingAndGlyphs">6666</text>
<text x="894" y="756" font-size="10" textLength="20" lengthAdjust="spacingAndGlyphs">6642</text>
<text x="690" y="799" font-size="7" textLength="50" lengthAdjust="spacingAndGlyphs">Plastic Ornaments</text>
<text x="770" y="800" font-size="10" textLength="28" lengthAdjust="spacingAndGlyphs">Cutlery</text>
<text x="822" y="794" font-size="7" textLength="26" lengthAdjust="spacingAndGlyphs">Umbrellas</text>
<text x="822" y="822" font-size="8" textLength="18" lengthAdjust="spacingAndGlyphs">6938</text>
<text x="690" y="843" font-size="12" textLength="42" lengthAdjust="spacingAndGlyphs">Glassware</text>
<text x="770" y="838" font-size="9" textLength="30" lengthAdjust="spacingAndGlyphs">Watches</text>
</g>

<!-- Dark green -->
<g class="dg">
<rect x="681" y="858" width="103" height="55"/>
<rect x="681" y="913" width="103" height="53"/>
<rect x="784" y="858" width="59" height="45"/>
<rect x="843" y="858" width="42" height="45"/>
<rect x="885" y="858" width="41" height="45"/>
<rect x="784" y="903" width="59" height="35"/>
<rect x="784" y="938" width="59" height="28"/>
<rect x="843" y="903" width="28" height="30"/><rect x="871" y="903" width="28" height="30"/><rect x="899" y="903" width="27" height="30"/>
<rect x="843" y="933" width="22" height="17"/><rect x="865" y="933" width="20" height="17"/><rect x="885" y="933" width="20" height="17"/><rect x="905" y="933" width="21" height="17"/>
<rect x="843" y="950" width="20" height="16"/><rect x="863" y="950" width="16" height="16"/><rect x="879" y="950" width="14" height="16"/><rect x="893" y="950" width="11" height="8"/><rect x="904" y="950" width="11" height="8"/><rect x="915" y="950" width="11" height="8"/><rect x="893" y="958" width="33" height="8"/>
<text x="690" y="873" font-size="7" textLength="70" lengthAdjust="spacingAndGlyphs">Synthetic Woven Fabrics</text>
<text class="p" x="690" y="902" font-size="8" textLength="18" lengthAdjust="spacingAndGlyphs">0.51%</text>
<text x="690" y="925" font-size="7" textLength="68" lengthAdjust="spacingAndGlyphs">Finished Cotton Fabrics</text>
<text class="p" x="690" y="953" font-size="8" textLength="18" lengthAdjust="spacingAndGlyphs">0.50%</text>
<text x="792" y="872" font-size="8" textLength="34" lengthAdjust="spacingAndGlyphs">Non-fabric...</text>
<text x="850" y="873" font-size="10" textLength="20" lengthAdjust="spacingAndGlyphs">6563</text>
<text x="792" y="925" font-size="18" textLength="30" lengthAdjust="spacingAndGlyphs">6534</text>
<text x="792" y="950" font-size="7" textLength="30" lengthAdjust="spacingAndGlyphs">Unbleached...</text>
</g>

<!-- Pink plastics -->
<g class="pk">
<rect x="926" y="578" width="106" height="90"/>
<rect x="926" y="668" width="106" height="29"/>
<rect x="1032" y="578" width="32" height="45"/><rect x="1064" y="578" width="34" height="45"/><rect x="1098" y="578" width="32" height="45"/>
<rect x="1032" y="623" width="30" height="25"/><rect x="1032" y="648" width="30" height="25"/><rect x="1032" y="673" width="30" height="24"/>
<rect x="1062" y="623" width="36" height="40"/><rect x="1098" y="623" width="32" height="25"/><rect x="1098" y="648" width="32" height="25"/>
<rect x="1062" y="663" width="18" height="17"/><rect x="1080" y="663" width="18" height="17"/><rect x="1062" y="680" width="36" height="17"/>
<rect x="1098" y="673" width="16" height="12"/><rect x="1114" y="673" width="16" height="12"/><rect x="1098" y="685" width="32" height="12"/>
<text x="935" y="595" font-size="12" textLength="64" lengthAdjust="spacingAndGlyphs">Miscellaneous</text>
<text x="935" y="607" font-size="12" textLength="80" lengthAdjust="spacingAndGlyphs">Articles of Plastic</text>
<text class="p" x="935" y="655" font-size="24" textLength="62" lengthAdjust="spacingAndGlyphs">0.89%</text>
<text x="935" y="683" font-size="6" textLength="50" lengthAdjust="spacingAndGlyphs">Coated Textile Fabrics</text>
<text x="1040" y="638" font-size="8" textLength="16" lengthAdjust="spacingAndGlyphs">5138</text>
<text x="1040" y="662" font-size="7" textLength="16" lengthAdjust="spacingAndGlyphs">Plast...</text>
</g>

<!-- Navy ships -->
<g class="nv">
<rect x="926" y="697" width="160" height="104"/>
<rect x="1086" y="697" width="44" height="62"/>
<rect x="1086" y="759" width="22" height="21"/><rect x="1108" y="759" width="22" height="21"/><rect x="1086" y="780" width="22" height="21"/><rect x="1108" y="780" width="22" height="21"/>
<text x="934" y="723" font-size="26" textLength="143" lengthAdjust="spacingAndGlyphs">Ships and Boats</text>
<text class="p" x="934" y="787" font-size="30" textLength="63" lengthAdjust="spacingAndGlyphs">1.6%</text>
<text x="1093" y="717" font-size="13" textLength="24" lengthAdjust="spacingAndGlyphs">7938</text>
<text class="p" x="1093" y="757" font-size="8" textLength="18" lengthAdjust="spacingAndGlyphs">0.20%</text>
</g>

<!-- Jewellery -->
<g class="jw">
<rect x="926" y="801" width="149" height="84"/>
<rect x="1075" y="801" width="28" height="30"/><rect x="1103" y="801" width="27" height="30"/>
<rect x="1075" y="831" width="20" height="27"/><rect x="1095" y="831" width="18" height="27"/><rect x="1113" y="831" width="17" height="27"/>
<rect x="1075" y="858" width="28" height="27"/><rect x="1103" y="858" width="14" height="14"/><rect x="1117" y="858" width="13" height="14"/><rect x="1103" y="872" width="27" height="13"/>
<text x="934" y="823" font-size="18" textLength="119" lengthAdjust="spacingAndGlyphs">Precious Jewellery</text>
<text class="p" x="934" y="873" font-size="22" textLength="44" lengthAdjust="spacingAndGlyphs">1.2%</text>
</g>

<!-- Lightbulbs -->
<g class="lb">
<rect x="926" y="885" width="94" height="45"/>
<rect x="926" y="930" width="94" height="36"/>
<rect x="1020" y="885" width="50" height="45"/>
<rect x="1070" y="885" width="60" height="30"/>
<rect x="1070" y="915" width="30" height="25"/><rect x="1100" y="915" width="30" height="25"/>
<rect x="1020" y="930" width="50" height="36"/>
<rect x="1070" y="940" width="30" height="26"/><rect x="1100" y="940" width="15" height="13"/><rect x="1115" y="940" width="15" height="13"/><rect x="1100" y="953" width="30" height="13"/>
<text x="934" y="898" font-size="7" textLength="70" lengthAdjust="spacingAndGlyphs">Large Transport Vehicle...</text>
<text x="1027" y="907" font-size="16" textLength="33" lengthAdjust="spacingAndGlyphs">7711</text>
<text x="934" y="950" font-size="16" textLength="58" lengthAdjust="spacingAndGlyphs">Lightbulbs</text>
</g>

<!-- Brown metals top -->
<g class="br">
<rect x="1130" y="578" width="62" height="77"/>
<rect x="1192" y="578" width="30" height="77"/>
<rect x="1222" y="578" width="27" height="77"/>
<rect x="1130" y="655" width="57" height="34"/>
<rect x="1130" y="689" width="57" height="21"/>
<rect x="1187" y="655" width="40" height="30"/><rect x="1227" y="655" width="22" height="30"/>
<rect x="1187" y="685" width="40" height="25"/><rect x="1227" y="685" width="11" height="12"/><rect x="1238" y="685" width="11" height="12"/><rect x="1227" y="697" width="22" height="13"/>
<text x="1139" y="593" font-size="7" textLength="38" lengthAdjust="spacingAndGlyphs">Miscellaneous</text>
<text x="1139" y="600" font-size="7" textLength="38" lengthAdjust="spacingAndGlyphs">Processed Iron</text>
<text class="p" x="1139" y="643" font-size="14" textLength="36" lengthAdjust="spacingAndGlyphs">0.45%</text>
<text x="1139" y="668" font-size="7" textLength="20" lengthAdjust="spacingAndGlyphs">Tile and</text>
<text x="1139" y="676" font-size="7" textLength="18" lengthAdjust="spacingAndGlyphs">Boards</text>
<text x="1195" y="668" font-size="7" textLength="18" lengthAdjust="spacingAndGlyphs">Parts...</text>
<text x="1195" y="697" font-size="7" textLength="16" lengthAdjust="spacingAndGlyphs">Iron...</text>
</g>

<!-- Yellow left -->
<g class="ye">
<rect x="1249" y="578" width="65" height="60"/>
<rect x="1314" y="578" width="30" height="60"/><rect x="1344" y="578" width="23" height="60"/>
<rect x="1249" y="638" width="42" height="37"/>
<rect x="1291" y="638" width="35" height="37"/>
<rect x="1326" y="638" width="22" height="37"/><rect x="1348" y="638" width="19" height="37"/>
<rect x="1249" y="675" width="42" height="35"/>
<rect x="1291" y="675" width="30" height="35"/><rect x="1321" y="675" width="24" height="18"/><rect x="1345" y="675" width="22" height="18"/><rect x="1321" y="693" width="46" height="17"/>
<text x="1258" y="592" font-size="7" textLength="40" lengthAdjust="spacingAndGlyphs">Plastic Storage</text>
<text x="1258" y="599" font-size="7" textLength="30" lengthAdjust="spacingAndGlyphs">Containers</text>
<text class="p" x="1258" y="628" font-size="9" textLength="20" lengthAdjust="spacingAndGlyphs">0.35%</text>
<text x="1258" y="656" font-size="13" textLength="27" lengthAdjust="spacingAndGlyphs">0565</text>
<text x="1300" y="655" font-size="9" textLength="18" lengthAdjust="spacingAndGlyphs">0589</text>
<text x="1258" y="693" font-size="13" textLength="27" lengthAdjust="spacingAndGlyphs">0545</text>
</g>

<!-- Brown precious -->
<g class="br">
<rect x="1130" y="710" width="106" height="80"/>
<rect x="1130" y="790" width="46" height="23"/>
<rect x="1130" y="813" width="46" height="22"/>
<rect x="1176" y="790" width="30" height="25"/><rect x="1206" y="790" width="30" height="25"/>
<rect x="1176" y="815" width="20" height="20"/><rect x="1196" y="815" width="20" height="20"/><rect x="1216" y="815" width="20" height="20"/>
<text x="1138" y="725" font-size="7" textLength="62" lengthAdjust="spacingAndGlyphs">Miscellaneous Articles of</text>
<text x="1138" y="733" font-size="7" textLength="40" lengthAdjust="spacingAndGlyphs">Precious Metals</text>
<text class="p" x="1138" y="778" font-size="20" textLength="54" lengthAdjust="spacingAndGlyphs">0.78%</text>
<text x="1138" y="807" font-size="11" textLength="22" lengthAdjust="spacingAndGlyphs">6996</text>
</g>

<!-- Fish teal -->
<g class="ft">
<rect x="1236" y="710" width="41" height="54"/>
<rect x="1277" y="710" width="37" height="54"/>
<rect x="1236" y="764" width="58" height="39"/>
<rect x="1294" y="764" width="20" height="39"/>
<rect x="1236" y="803" width="50" height="32"/>
<rect x="1286" y="803" width="28" height="16"/><rect x="1286" y="819" width="28" height="16"/>
<text x="1245" y="724" font-size="6" textLength="16" lengthAdjust="spacingAndGlyphs">Frozen</text>
<text x="1245" y="731" font-size="6" textLength="10" lengthAdjust="spacingAndGlyphs">Fish</text>
<text x="1245" y="738" font-size="6" textLength="15" lengthAdjust="spacingAndGlyphs">Fillets</text>
<text x="1285" y="726" font-size="9" textLength="18" lengthAdjust="spacingAndGlyphs">0372</text>
<text x="1245" y="785" font-size="15" textLength="30" lengthAdjust="spacingAndGlyphs">0360</text>
<text x="1245" y="822" font-size="13" textLength="26" lengthAdjust="spacingAndGlyphs">0371</text>
</g>

<!-- Salmon red -->
<g class="sr">
<rect x="1314" y="710" width="27" height="62"/><rect x="1341" y="710" width="26" height="62"/>
<rect x="1314" y="772" width="53" height="30"/>
<rect x="1314" y="802" width="26" height="33"/><rect x="1340" y="802" width="27" height="33"/>
</g>

<!-- Bottom small left -->
<g class="lv">
<rect x="1130" y="835" width="56" height="33"/><rect x="1186" y="835" width="26" height="15"/><rect x="1186" y="850" width="13" height="18"/><rect x="1199" y="850" width="13" height="18"/><rect x="1130" y="868" width="56" height="15"/><rect x="1186" y="868" width="26" height="15"/>
<text x="1138" y="848" font-size="6" textLength="32" lengthAdjust="spacingAndGlyphs">Nitrogenous</text>
<text x="1138" y="855" font-size="6" textLength="28" lengthAdjust="spacingAndGlyphs">Fertilizers</text>
</g>
<g class="or">
<rect x="1212" y="835" width="27" height="24"/><rect x="1239" y="835" width="29" height="24"/><rect x="1212" y="859" width="20" height="12"/><rect x="1232" y="859" width="18" height="12"/><rect x="1250" y="859" width="18" height="12"/><rect x="1212" y="871" width="56" height="12"/>
</g>
<g class="pu"><rect x="1268" y="835" width="34" height="48"/></g>
<g class="lg"><rect x="1302" y="835" width="34" height="33"/><rect x="1302" y="868" width="17" height="15"/><rect x="1319" y="868" width="17" height="15"/></g>
<g class="ow"><rect x="1336" y="835" width="20" height="30"/><rect x="1356" y="835" width="11" height="30"/><rect x="1336" y="865" width="31" height="18"/></g>
<g class="py">
<rect x="1130" y="883" width="48" height="27"/><rect x="1178" y="883" width="34" height="15"/><rect x="1130" y="910" width="48" height="22"/><rect x="1178" y="898" width="17" height="17"/><rect x="1195" y="898" width="17" height="17"/><rect x="1178" y="915" width="34" height="17"/>
<text x="1138" y="898" font-size="7" textLength="14" lengthAdjust="spacingAndGlyphs">Pla...</text>
</g>
<g class="lp"><rect x="1130" y="932" width="48" height="34"/><rect x="1178" y="932" width="34" height="34"/></g>
<g class="do"><rect x="1212" y="883" width="56" height="50"/><text x="1220" y="900" font-size="9" textLength="18" lengthAdjust="spacingAndGlyphs">3330</text></g>
<g class="la"><rect x="1212" y="933" width="56" height="33"/></g>
<g class="dk"><rect x="1268" y="883" width="43" height="27"/></g>
<g class="kh"><rect x="1268" y="910" width="43" height="27"/></g>
<g class="or"><rect x="1268" y="937" width="43" height="29"/></g>
<g class="go"><rect x="1311" y="883" width="30" height="37"/></g>
<g class="yb"><rect x="1341" y="883" width="26" height="37"/></g>
<g class="bn"><rect x="1311" y="920" width="46" height="22"/><rect x="1357" y="920" width="10" height="22"/></g>
<g class="ol"><rect x="1311" y="942" width="56" height="24"/></g>

<!-- ================= RIGHT TREEMAP ================= -->
<!-- Blue (right) -->
<g class="b">
<rect x="1506" y="167" width="225" height="190"/>
<rect x="1506" y="357" width="225" height="120"/>
<rect x="1506" y="477" width="225" height="112"/>
<rect x="1731" y="167" width="77" height="131"/>
<rect x="1808" y="167" width="55" height="131"/>
<rect x="1863" y="167" width="49" height="131"/>
<rect x="1912" y="167" width="40" height="131"/>
<rect x="1731" y="298" width="57" height="66"/>
<rect x="1731" y="364" width="57" height="61"/>
<rect x="1731" y="425" width="57" height="61"/>
<rect x="1731" y="486" width="57" height="62"/>
<rect x="1731" y="548" width="57" height="41"/>
<rect x="1788" y="298" width="38" height="72"/><rect x="1826" y="298" width="36" height="72"/><rect x="1862" y="298" width="33" height="72"/><rect x="1895" y="298" width="31" height="72"/><rect x="1926" y="298" width="26" height="72"/>
<rect x="1788" y="370" width="40" height="44"/><rect x="1828" y="370" width="22" height="44"/><rect x="1850" y="370" width="21" height="44"/><rect x="1871" y="370" width="22" height="44"/><rect x="1893" y="370" width="22" height="44"/><rect x="1915" y="370" width="20" height="44"/><rect x="1935" y="370" width="17" height="44"/>
<rect x="1788" y="414" width="40" height="41"/><rect x="1828" y="414" width="22" height="41"/><rect x="1850" y="414" width="18" height="41"/><rect x="1868" y="414" width="18" height="41"/><rect x="1886" y="414" width="18" height="41"/><rect x="1904" y="414" width="18" height="41"/><rect x="1922" y="414" width="16" height="41"/><rect x="1938" y="414" width="14" height="41"/>
<rect x="1788" y="455" width="40" height="27"/><rect x="1828" y="455" width="29" height="27"/><rect x="1857" y="455" width="20" height="27"/><rect x="1877" y="455" width="19" height="27"/><rect x="1896" y="455" width="16" height="27"/><rect x="1912" y="455" width="14" height="27"/><rect x="1926" y="455" width="13" height="27"/><rect x="1939" y="455" width="13" height="27"/>
<rect x="1788" y="482" width="40" height="29"/><rect x="1828" y="482" width="29" height="29"/><rect x="1857" y="482" width="22" height="14"/><rect x="1857" y="496" width="22" height="15"/><rect x="1879" y="482" width="18" height="29"/><rect x="1897" y="482" width="14" height="14"/><rect x="1911" y="482" width="14" height="14"/><rect x="1925" y="482" width="14" height="14"/><rect x="1939" y="482" width="13" height="14"/><rect x="1897" y="496" width="55" height="15"/>
<rect x="1788" y="511" width="40" height="25"/><rect x="1828" y="511" width="29" height="25"/><rect x="1857" y="511" width="20" height="25"/><rect x="1877" y="511" width="16" height="12"/><rect x="1893" y="511" width="14" height="12"/><rect x="1907" y="511" width="12" height="12"/><rect x="1919" y="511" width="12" height="12"/><rect x="1931" y="511" width="11" height="12"/><rect x="1942" y="511" width="10" height="12"/><rect x="1877" y="523" width="75" height="13"/>
<rect x="1788" y="536" width="40" height="27"/><rect x="1828" y="536" width="31" height="27"/><rect x="1859" y="536" width="20" height="27"/><rect x="1879" y="536" width="16" height="27"/><rect x="1895" y="536" width="14" height="14"/><rect x="1909" y="536" width="12" height="14"/><rect x="1921" y="536" width="11" height="14"/><rect x="1932" y="536" width="10" height="14"/><rect x="1942" y="536" width="10" height="14"/><rect x="1895" y="550" width="57" height="13"/>
<rect x="1788" y="563" width="40" height="26"/><rect x="1828" y="563" width="31" height="26"/><rect x="1859" y="563" width="20" height="13"/><rect x="1859" y="576" width="20" height="13"/><rect x="1879" y="563" width="16" height="26"/><rect x="1895" y="563" width="10" height="13"/><rect x="1905" y="563" width="10" height="13"/><rect x="1915" y="563" width="9" height="13"/><rect x="1924" y="563" width="9" height="13"/><rect x="1933" y="563" width="9" height="13"/><rect x="1942" y="563" width="10" height="13"/><rect x="1895" y="576" width="57" height="13"/>

<text x="1513" y="204" font-size="28" textLength="61" lengthAdjust="spacingAndGlyphs">Cars</text>
<text class="p" x="1513" y="342" font-size="40" textLength="87" lengthAdjust="spacingAndGlyphs">4.0%</text>
<text x="1513" y="377" font-size="17" textLength="204" lengthAdjust="spacingAndGlyphs">Vehicles Parts and Accessories</text>
<text class="p" x="1513" y="459" font-size="26" textLength="52" lengthAdjust="spacingAndGlyphs">2.5%</text>
<text x="1513" y="502" font-size="19" textLength="134" lengthAdjust="spacingAndGlyphs">Trucks and Vans</text>
<text class="p" x="1513" y="572" font-size="24" textLength="47" lengthAdjust="spacingAndGlyphs">2.3%</text>
<text x="1738" y="187" font-size="12" textLength="34" lengthAdjust="spacingAndGlyphs">Circuit</text>
<text x="1738" y="200" font-size="12" textLength="64" lengthAdjust="spacingAndGlyphs">Breakers and</text>
<text x="1738" y="214" font-size="12" textLength="32" lengthAdjust="spacingAndGlyphs">Panels</text>
<text class="p" x="1738" y="282" font-size="22" textLength="60" lengthAdjust="spacingAndGlyphs">0.95%</text>
<text x="1815" y="187" font-size="12" textLength="36" lengthAdjust="spacingAndGlyphs">Tractor</text>
<text x="1815" y="200" font-size="12" textLength="26" lengthAdjust="spacingAndGlyphs">Units</text>
<text class="p" x="1815" y="286" font-size="15" textLength="39" lengthAdjust="spacingAndGlyphs">0.67%</text>
<text x="1870" y="187" font-size="10" textLength="28" lengthAdjust="spacingAndGlyphs">Piston</text>
<text x="1870" y="200" font-size="10" textLength="30" lengthAdjust="spacingAndGlyphs">Engine</text>
<text x="1870" y="213" font-size="10" textLength="24" lengthAdjust="spacingAndGlyphs">Parts</text>
<text class="p" x="1870" y="286" font-size="12" textLength="32" lengthAdjust="spacingAndGlyphs">0.59%</text>
<text x="1918" y="180" font-size="6" textLength="14" lengthAdjust="spacingAndGlyphs">Motor</text>
<text x="1918" y="187" font-size="6" textLength="20" lengthAdjust="spacingAndGlyphs">Vehicles</text>
<text x="1918" y="194" font-size="6" textLength="16" lengthAdjust="spacingAndGlyphs">Power</text>
<text x="1918" y="201" font-size="6" textLength="20" lengthAdjust="spacingAndGlyphs">Engines</text>
<text class="p" x="1918" y="286" font-size="9" textLength="24" lengthAdjust="spacingAndGlyphs">0.61%</text>
<text x="1738" y="314" font-size="7" textLength="34" lengthAdjust="spacingAndGlyphs">Automotive...</text>
<text class="p" x="1738" y="348" font-size="7" textLength="16" lengthAdjust="spacingAndGlyphs">0.34%</text>
<text x="1796" y="320" font-size="11" textLength="22" lengthAdjust="spacingAndGlyphs">7234</text>
<text x="1834" y="320" font-size="10" textLength="18" lengthAdjust="spacingAndGlyphs">7431</text>
<text x="1869" y="320" font-size="10" textLength="18" lengthAdjust="spacingAndGlyphs">7436</text>
<text x="1900" y="319" font-size="8" textLength="10" lengthAdjust="spacingAndGlyphs">Car</text>
<text x="1900" y="328" font-size="8" textLength="14" lengthAdjust="spacingAndGlyphs">Tires</text>
<text class="p" x="1796" y="356" font-size="7" textLength="16" lengthAdjust="spacingAndGlyphs">0.29%</text>
<text class="p" x="1834" y="356" font-size="7" textLength="16" lengthAdjust="spacingAndGlyphs">0.29%</text>
<text class="p" x="1869" y="356" font-size="7" textLength="16" lengthAdjust="spacingAndGlyphs">0.28%</text>
<text x="1738" y="378" font-size="6" textLength="36" lengthAdjust="spacingAndGlyphs">Electric Motors...</text>
<text class="p" x="1738" y="411" font-size="7" textLength="16" lengthAdjust="spacingAndGlyphs">0.33%</text>
<text x="1797" y="386" font-size="6" textLength="14" lengthAdjust="spacingAndGlyphs">Pulley</text>
<text x="1797" y="393" font-size="6" textLength="16" lengthAdjust="spacingAndGlyphs">System</text>
<text x="1797" y="400" font-size="6" textLength="12" lengthAdjust="spacingAndGlyphs">Parts</text>
<text x="1738" y="439" font-size="6" textLength="36" lengthAdjust="spacingAndGlyphs">Miscellaneous...</text>
<text class="p" x="1738" y="471" font-size="7" textLength="16" lengthAdjust="spacingAndGlyphs">0.32%</text>
<text x="1797" y="434" font-size="11" textLength="22" lengthAdjust="spacingAndGlyphs">7284</text>
<text x="1797" y="469" font-size="7" textLength="14" lengthAdjust="spacingAndGlyphs">7443</text>
<text x="1738" y="504" font-size="11" textLength="26" lengthAdjust="spacingAndGlyphs">Valves</text>
<text x="1738" y="553" font-size="7" textLength="22" lengthAdjust="spacingAndGlyphs">Gaskets</text>
</g>

<!-- Iron ore / copper / gold -->
<g class="io">
<rect x="1952" y="167" width="181" height="199"/>
<rect x="1952" y="366" width="181" height="184"/>
<rect x="2133" y="167" width="122" height="251"/>
<rect x="2255" y="167" width="95" height="251"/>
<rect x="2133" y="418" width="105" height="75"/>
<rect x="2133" y="493" width="105" height="57"/>
<rect x="2238" y="418" width="63" height="49"/><rect x="2238" y="467" width="63" height="45"/><rect x="2238" y="512" width="63" height="38"/>
<rect x="2301" y="418" width="31" height="82"/><rect x="2332" y="418" width="18" height="40"/><rect x="2332" y="458" width="18" height="42"/>
<rect x="2301" y="500" width="24" height="25"/><rect x="2325" y="500" width="25" height="25"/><rect x="2301" y="525" width="16" height="25"/><rect x="2317" y="525" width="16" height="12"/><rect x="2333" y="525" width="17" height="12"/><rect x="2317" y="537" width="33" height="13"/>
<text x="1960" y="205" font-size="28" textLength="108" lengthAdjust="spacingAndGlyphs">Iron Ore</text>
<text class="p" x="1960" y="341" font-size="40" textLength="86" lengthAdjust="spacingAndGlyphs">3.3%</text>
<text x="1960" y="398" font-size="28" textLength="163" lengthAdjust="spacingAndGlyphs">Copper Ores</text>
<text class="p" x="1960" y="523" font-size="40" textLength="86" lengthAdjust="spacingAndGlyphs">3.0%</text>
<text x="2141" y="203" font-size="28" textLength="94" lengthAdjust="spacingAndGlyphs">Copper</text>
<text class="p" x="2141" y="393" font-size="40" textLength="84" lengthAdjust="spacingAndGlyphs">2.9%</text>
<text x="2262" y="203" font-size="28" textLength="59" lengthAdjust="spacingAndGlyphs">Gold</text>
<text class="p" x="2262" y="395" font-size="40" textLength="79" lengthAdjust="spacingAndGlyphs">2.2%</text>
<text x="2141" y="436" font-size="9" textLength="80" lengthAdjust="spacingAndGlyphs">Iron Ore Agglomerates</text>
<text class="p" x="2141" y="477" font-size="8" textLength="20" lengthAdjust="spacingAndGlyphs">0.75%</text>
<text x="2141" y="508" font-size="8" textLength="18" lengthAdjust="spacingAndGlyphs">Other</text>
<text x="2246" y="434" font-size="6" textLength="30" lengthAdjust="spacingAndGlyphs">Machinery for</text>
<text x="2246" y="484" font-size="7" textLength="38" lengthAdjust="spacingAndGlyphs">Precious Metal</text>
<text x="2246" y="492" font-size="7" textLength="12" lengthAdjust="spacingAndGlyphs">Ore</text>
<text x="2246" y="528" font-size="7" textLength="40" lengthAdjust="spacingAndGlyphs">Inorganic Bases</text>
<text x="2306" y="436" font-size="9" textLength="18" lengthAdjust="spacingAndGlyphs">2879</text>
</g>

<!-- Crude -->
<g class="cp">
<rect x="1506" y="589" width="412" height="380"/>
<rect x="1918" y="589" width="34" height="204"/>
<rect x="1918" y="793" width="34" height="162"/>
<rect x="1918" y="955" width="34" height="14"/>
<text x="1514" y="624" font-size="30" textLength="230" lengthAdjust="spacingAndGlyphs">Crude Petroleum</text>
<text class="p" x="1514" y="945" font-size="40" textLength="75" lengthAdjust="spacingAndGlyphs">15%</text>
<text x="1924" y="612" font-size="10" textLength="20" lengthAdjust="spacingAndGlyphs">3413</text>
<text class="p" x="1924" y="782" font-size="7" textLength="16" lengthAdjust="spacingAndGlyphs">0.40%</text>
<text x="1924" y="815" font-size="10" textLength="20" lengthAdjust="spacingAndGlyphs">3414</text>
<text class="p" x="1924" y="943" font-size="7" textLength="16" lengthAdjust="spacingAndGlyphs">0.30%</text>
</g>

<!-- Light teal electronics (right) -->
<g class="t">
<rect x="1952" y="550" width="148" height="136"/>
<rect x="1952" y="686" width="148" height="106"/>
<rect x="2100" y="550" width="108" height="129"/>
<rect x="2100" y="679" width="108" height="60"/>
<rect x="2100" y="739" width="108" height="53"/>
<rect x="2208" y="550" width="45" height="89"/>
<rect x="2253" y="550" width="38" height="89"/>
<rect x="2291" y="550" width="31" height="89"/>
<rect x="2322" y="550" width="28" height="89"/>
<rect x="2208" y="639" width="41" height="44"/>
<rect x="2249" y="639" width="25" height="52"/><rect x="2274" y="639" width="25" height="52"/><rect x="2299" y="639" width="26" height="52"/><rect x="2325" y="639" width="25" height="52"/>
<rect x="2208" y="683" width="41" height="39"/>
<rect x="2208" y="722" width="41" height="35"/>
<rect x="2208" y="757" width="41" height="35"/>
<rect x="2249" y="691" width="31" height="42"/><rect x="2280" y="691" width="25" height="45"/><rect x="2305" y="691" width="23" height="45"/><rect x="2328" y="691" width="22" height="45"/>
<rect x="2249" y="733" width="31" height="30"/><rect x="2249" y="763" width="31" height="29"/>
<rect x="2280" y="736" width="22" height="20"/><rect x="2302" y="736" width="20" height="20"/><rect x="2322" y="736" width="28" height="20"/>
<rect x="2280" y="756" width="22" height="18"/><rect x="2302" y="756" width="15" height="18"/><rect x="2317" y="756" width="16" height="18"/><rect x="2333" y="756" width="17" height="18"/>
<rect x="2280" y="774" width="18" height="18"/><rect x="2298" y="774" width="18" height="18"/><rect x="2316" y="774" width="12" height="18"/><rect x="2328" y="774" width="11" height="18"/><rect x="2339" y="774" width="11" height="18"/>
<text x="1960" y="583" font-size="24" textLength="101" lengthAdjust="spacingAndGlyphs">Color TVs</text>
<text class="p" x="1960" y="667" font-size="28" textLength="60" lengthAdjust="spacingAndGlyphs">1.9%</text>
<text x="1960" y="713" font-size="20" textLength="45" lengthAdjust="spacingAndGlyphs">CPUs</text>
<text class="p" x="1960" y="775" font-size="18" textLength="42" lengthAdjust="spacingAndGlyphs">1.4%</text>
<text x="2108" y="579" font-size="13" textLength="55" lengthAdjust="spacingAndGlyphs">Electronic</text>
<text x="2108" y="594" font-size="13" textLength="77" lengthAdjust="spacingAndGlyphs">Microcircuits</text>
<text class="p" x="2108" y="660" font-size="26" textLength="57" lengthAdjust="spacingAndGlyphs">1.3%</text>
<text x="2108" y="693" font-size="6" textLength="58" lengthAdjust="spacingAndGlyphs">TV and Radio Transmitters</text>
<text class="p" x="2108" y="725" font-size="6" textLength="12" lengthAdjust="spacingAndGlyphs">0.33%</text>
<text x="2108" y="752" font-size="6" textLength="62" lengthAdjust="spacingAndGlyphs">Telecom Parts and Accessories</text>
<text x="2216" y="575" font-size="15" textLength="33" lengthAdjust="spacingAndGlyphs">7788</text>
<text x="2258" y="572" font-size="11" textLength="26" lengthAdjust="spacingAndGlyphs">7599</text>
<text x="2298" y="570" font-size="8" textLength="14" lengthAdjust="spacingAndGlyphs">7525</text>
<text class="p" x="2216" y="626" font-size="8" textLength="20" lengthAdjust="spacingAndGlyphs">0.37%</text>
<text class="p" x="2258" y="626" font-size="8" textLength="18" lengthAdjust="spacingAndGlyphs">0.32%</text>
<text x="2216" y="653" font-size="5" textLength="18" lengthAdjust="spacingAndGlyphs">Personal</text>
<text x="2216" y="659" font-size="5" textLength="20" lengthAdjust="spacingAndGlyphs">Computers</text>
<text x="2216" y="700" font-size="6" textLength="18" lengthAdjust="spacingAndGlyphs">Lighting</text>
<text x="2216" y="707" font-size="6" textLength="18" lengthAdjust="spacingAndGlyphs">Fixtures</text>
<text x="2216" y="742" font-size="9" textLength="16" lengthAdjust="spacingAndGlyphs">7421</text>
<text x="2216" y="777" font-size="9" textLength="16" lengthAdjust="spacingAndGlyphs">7712</text>
<text x="2255" y="712" font-size="5" textLength="16" lengthAdjust="spacingAndGlyphs">Sound and</text>
<text x="2255" y="718" font-size="5" textLength="12" lengthAdjust="spacingAndGlyphs">Video</text>
<text x="2255" y="752" font-size="8" textLength="14" lengthAdjust="spacingAndGlyphs">7661</text>
</g>

<!-- Tan soy -->
<g class="tn">
<rect x="1952" y="792" width="154" height="177"/>
<rect x="2106" y="792" width="107" height="177"/>
<rect x="2213" y="792" width="90" height="112"/>
<rect x="2213" y="904" width="90" height="65"/>
<rect x="2303" y="792" width="47" height="83"/>
<rect x="2303" y="875" width="22" height="40"/><rect x="2325" y="875" width="25" height="40"/>
<rect x="2303" y="915" width="22" height="20"/><rect x="2325" y="915" width="12" height="20"/><rect x="2337" y="915" width="13" height="20"/>
<rect x="2303" y="935" width="15" height="34"/><rect x="2318" y="935" width="15" height="17"/><rect x="2333" y="935" width="17" height="17"/><rect x="2318" y="952" width="32" height="17"/>
<text x="1960" y="826" font-size="28" textLength="137" lengthAdjust="spacingAndGlyphs">Soy Beans</text>
<text class="p" x="1960" y="945" font-size="40" textLength="86" lengthAdjust="spacingAndGlyphs">2.5%</text>
<text x="2113" y="826" font-size="28" textLength="93" lengthAdjust="spacingAndGlyphs">Oilcake</text>
<text class="p" x="2113" y="945" font-size="40" textLength="79" lengthAdjust="spacingAndGlyphs">1.8%</text>
<text x="2220" y="820" font-size="22" textLength="56" lengthAdjust="spacingAndGlyphs">Maize</text>
<text class="p" x="2220" y="888" font-size="20" textLength="56" lengthAdjust="spacingAndGlyphs">0.94%</text>
<text x="2220" y="924" font-size="7" textLength="38" lengthAdjust="spacingAndGlyphs">Soy Bean Oil</text>
<text class="p" x="2220" y="956" font-size="6" textLength="14" lengthAdjust="spacingAndGlyphs">0.55%</text>
<text x="2310" y="813" font-size="12" textLength="26" lengthAdjust="spacingAndGlyphs">0412</text>
<text class="p" x="2310" y="862" font-size="7" textLength="16" lengthAdjust="spacingAndGlyphs">0.35%</text>
</g>

<!-- Red (right) -->
<g class="r">
<rect x="2350" y="167" width="104" height="113"/>
<rect x="2454" y="167" width="62" height="113"/>
<rect x="2350" y="280" width="48" height="70"/>
<rect x="2350" y="350" width="48" height="37"/>
<rect x="2350" y="387" width="48" height="30"/>
<rect x="2350" y="417" width="48" height="33"/>
<rect x="2398" y="280" width="29" height="58"/><rect x="2427" y="280" width="26" height="58"/><rect x="2453" y="280" width="20" height="58"/><rect x="2473" y="280" width="20" height="58"/><rect x="2493" y="280" width="23" height="58"/>
<rect x="2398" y="338" width="37" height="29"/><rect x="2398" y="367" width="37" height="30"/><rect x="2398" y="397" width="37" height="26"/><rect x="2398" y="423" width="37" height="27"/>
<rect x="2435" y="338" width="24" height="40"/><rect x="2459" y="338" width="19" height="40"/><rect x="2478" y="338" width="19" height="40"/><rect x="2497" y="338" width="19" height="40"/>
<rect x="2435" y="378" width="25" height="24"/><rect x="2460" y="378" width="18" height="24"/><rect x="2478" y="378" width="13" height="24"/><rect x="2491" y="378" width="13" height="24"/><rect x="2504" y="378" width="12" height="24"/>
<rect x="2435" y="402" width="25" height="24"/><rect x="2460" y="402" width="18" height="16"/><rect x="2478" y="402" width="12" height="16"/><rect x="2490" y="402" width="13" height="16"/><rect x="2503" y="402" width="13" height="16"/>
<rect x="2435" y="426" width="25" height="24"/><rect x="2460" y="418" width="14" height="16"/><rect x="2474" y="418" width="14" height="16"/><rect x="2488" y="418" width="14" height="16"/><rect x="2502" y="418" width="14" height="16"/>
<rect x="2460" y="434" width="14" height="16"/><rect x="2474" y="434" width="10" height="8"/><rect x="2484" y="434" width="10" height="8"/><rect x="2494" y="434" width="10" height="8"/><rect x="2504" y="434" width="12" height="8"/><rect x="2474" y="442" width="42" height="8"/>
<text x="2357" y="190" font-size="19" textLength="86" lengthAdjust="spacingAndGlyphs">Electric Wire</text>
<text class="p" x="2357" y="262" font-size="24" textLength="47" lengthAdjust="spacingAndGlyphs">1.1%</text>
<text x="2460" y="193" font-size="10" textLength="26" lengthAdjust="spacingAndGlyphs">Chairs</text>
<text x="2460" y="205" font-size="10" textLength="16" lengthAdjust="spacingAndGlyphs">and</text>
<text x="2460" y="217" font-size="10" textLength="34" lengthAdjust="spacingAndGlyphs">Couches</text>
<text class="p" x="2460" y="263" font-size="16" textLength="45" lengthAdjust="spacingAndGlyphs">0.62%</text>
<text x="2357" y="296" font-size="6" textLength="22" lengthAdjust="spacingAndGlyphs">Insulated</text>
<text x="2357" y="303" font-size="6" textLength="30" lengthAdjust="spacingAndGlyphs">Refrigerators</text>
<text class="p" x="2357" y="335" font-size="7" textLength="16" lengthAdjust="spacingAndGlyphs">0.32%</text>
<text x="2357" y="366" font-size="6" textLength="30" lengthAdjust="spacingAndGlyphs">Miscellaneous</text>
<text x="2357" y="373" font-size="6" textLength="22" lengthAdjust="spacingAndGlyphs">Furniture</text>
<text x="2357" y="436" font-size="6" textLength="18" lengthAdjust="spacingAndGlyphs">Seat...</text>
<text x="2406" y="352" font-size="6" textLength="12" lengthAdjust="spacingAndGlyphs">Wire</text>
<text x="2406" y="382" font-size="6" textLength="14" lengthAdjust="spacingAndGlyphs">Fabric</text>
<text x="2406" y="411" font-size="6" textLength="20" lengthAdjust="spacingAndGlyphs">Electric...</text>
</g>

<!-- Yellow (right) -->
<g class="ye">
<rect x="2516" y="167" width="62" height="131"/>
<rect x="2578" y="167" width="36" height="131"/>
<rect x="2614" y="167" width="38" height="131"/>
<rect x="2516" y="298" width="61" height="54"/>
<rect x="2516" y="352" width="61" height="51"/>
<rect x="2516" y="403" width="61" height="47"/>
<rect x="2577" y="298" width="27" height="54"/><rect x="2604" y="298" width="22" height="54"/><rect x="2626" y="298" width="26" height="54"/>
<rect x="2577" y="352" width="32" height="46"/><rect x="2609" y="352" width="20" height="46"/><rect x="2629" y="352" width="23" height="46"/>
<rect x="2577" y="398" width="32" height="30"/><rect x="2577" y="428" width="32" height="22"/>
<rect x="2609" y="398" width="22" height="26"/><rect x="2631" y="398" width="21" height="26"/>
<rect x="2609" y="424" width="14" height="13"/><rect x="2623" y="424" width="14" height="13"/><rect x="2637" y="424" width="15" height="13"/><rect x="2609" y="437" width="22" height="13"/><rect x="2631" y="437" width="21" height="13"/>
<text x="2522" y="186" font-size="9" textLength="44" lengthAdjust="spacingAndGlyphs">Miscellaneous</text>
<text x="2522" y="195" font-size="9" textLength="16" lengthAdjust="spacingAndGlyphs">Fruit</text>
<text class="p" x="2522" y="283" font-size="20" textLength="50" lengthAdjust="spacingAndGlyphs">0.81%</text>
<text x="2585" y="185" font-size="11" textLength="22" lengthAdjust="spacingAndGlyphs">0585</text>
<text x="2622" y="183" font-size="8" textLength="14" lengthAdjust="spacingAndGlyphs">0545</text>
<text class="p" x="2585" y="287" font-size="8" textLength="18" lengthAdjust="spacingAndGlyphs">0.44%</text>
<text x="2522" y="318" font-size="11" textLength="20" lengthAdjust="spacingAndGlyphs">Wine</text>
<text x="2522" y="366" font-size="6" textLength="36" lengthAdjust="spacingAndGlyphs">Miscellaneous...</text>
<text x="2522" y="417" font-size="6" textLength="36" lengthAdjust="spacingAndGlyphs">Fruit Storage...</text>
<text x="2582" y="375" font-size="9" textLength="18" lengthAdjust="spacingAndGlyphs">0620</text>
<text x="2582" y="409" font-size="9" textLength="18" lengthAdjust="spacingAndGlyphs">0730</text>
<text x="2582" y="439" font-size="8" textLength="16" lengthAdjust="spacingAndGlyphs">0844</text>
</g>

<!-- Medical dark red -->
<g class="md">
<rect x="2652" y="167" width="77" height="115"/>
<rect x="2729" y="167" width="35" height="115"/>
<rect x="2652" y="282" width="31" height="53"/><rect x="2683" y="282" width="28" height="53"/><rect x="2711" y="282" width="19" height="53"/><rect x="2730" y="282" width="17" height="53"/><rect x="2747" y="282" width="17" height="53"/>
<rect x="2652" y="335" width="24" height="45"/><rect x="2676" y="335" width="19" height="45"/><rect x="2695" y="335" width="17" height="45"/><rect x="2712" y="335" width="17" height="45"/><rect x="2729" y="335" width="17" height="45"/><rect x="2746" y="335" width="18" height="45"/>
<rect x="2652" y="380" width="24" height="35"/><rect x="2652" y="415" width="24" height="35"/>
<rect x="2676" y="380" width="20" height="24"/><rect x="2696" y="380" width="16" height="24"/><rect x="2712" y="380" width="14" height="24"/><rect x="2726" y="380" width="13" height="24"/><rect x="2739" y="380" width="12" height="24"/><rect x="2751" y="380" width="13" height="24"/>
<rect x="2676" y="404" width="14" height="15"/><rect x="2690" y="404" width="14" height="15"/><rect x="2704" y="404" width="12" height="15"/><rect x="2716" y="404" width="12" height="15"/><rect x="2728" y="404" width="12" height="15"/><rect x="2740" y="404" width="12" height="15"/><rect x="2752" y="404" width="12" height="15"/>
<rect x="2676" y="419" width="14" height="16"/><rect x="2690" y="419" width="12" height="16"/><rect x="2702" y="419" width="10" height="16"/><rect x="2712" y="419" width="10" height="16"/><rect x="2722" y="419" width="10" height="16"/><rect x="2732" y="419" width="10" height="16"/><rect x="2742" y="419" width="11" height="16"/><rect x="2753" y="419" width="11" height="16"/>
<rect x="2676" y="435" width="12" height="15"/><rect x="2688" y="435" width="10" height="15"/><rect x="2698" y="435" width="9" height="15"/><rect x="2707" y="435" width="9" height="15"/><rect x="2716" y="435" width="8" height="8"/><rect x="2724" y="435" width="8" height="8"/><rect x="2732" y="435" width="8" height="8"/><rect x="2740" y="435" width="8" height="8"/><rect x="2748" y="435" width="16" height="8"/><rect x="2716" y="443" width="48" height="7"/>
<text x="2654" y="192" font-size="14" textLength="44" lengthAdjust="spacingAndGlyphs">Medical</text>
<text x="2654" y="206" font-size="14" textLength="62" lengthAdjust="spacingAndGlyphs">Instruments</text>
<text class="p" x="2654" y="265" font-size="22" textLength="54" lengthAdjust="spacingAndGlyphs">0.83%</text>
<text x="2732" y="185" font-size="8" textLength="16" lengthAdjust="spacingAndGlyphs">5989</text>
<text x="2656" y="300" font-size="8" textLength="16" lengthAdjust="spacingAndGlyphs">8996</text>
</g>

<!-- Coffee -->
<g class="cf">
<rect x="2764" y="167" width="87" height="166"/>
<rect x="2764" y="333" width="43" height="75"/>
<rect x="2764" y="408" width="43" height="42"/>
<rect x="2807" y="333" width="26" height="36"/><rect x="2833" y="333" width="18" height="36"/>
<rect x="2807" y="369" width="15" height="40"/><rect x="2822" y="369" width="15" height="40"/><rect x="2837" y="369" width="14" height="40"/>
<rect x="2807" y="409" width="22" height="20"/><rect x="2829" y="409" width="22" height="20"/>
<rect x="2807" y="429" width="15" height="21"/><rect x="2822" y="429" width="10" height="11"/><rect x="2832" y="429" width="10" height="11"/><rect x="2842" y="429" width="9" height="11"/><rect x="2822" y="440" width="29" height="10"/>
<text x="2764" y="200" font-size="28" textLength="74" lengthAdjust="spacingAndGlyphs">Coffee</text>
<text class="p" x="2764" y="310" font-size="36" textLength="68" lengthAdjust="spacingAndGlyphs">1.4%</text>
<text x="2768" y="349" font-size="7" textLength="18" lengthAdjust="spacingAndGlyphs">Refined</text>
<text x="2768" y="357" font-size="7" textLength="18" lengthAdjust="spacingAndGlyphs">Sugars</text>
<text class="p" x="2768" y="392" font-size="8" textLength="18" lengthAdjust="spacingAndGlyphs">0.32%</text>
<text x="2768" y="424" font-size="7" textLength="26" lengthAdjust="spacingAndGlyphs">Tomatoes</text>
</g>

<!-- Cane sugar -->
<g class="cs">
<rect x="2350" y="450" width="126" height="83"/>
<rect x="2350" y="533" width="126" height="60"/>
<rect x="2476" y="450" width="48" height="54"/>
<rect x="2476" y="504" width="29" height="45"/><rect x="2505" y="504" width="19" height="45"/>
<rect x="2476" y="549" width="20" height="22"/><rect x="2496" y="549" width="14" height="22"/><rect x="2510" y="549" width="14" height="22"/>
<rect x="2476" y="571" width="21" height="22"/><rect x="2497" y="571" width="13" height="22"/><rect x="2510" y="571" width="14" height="22"/>
<text x="2357" y="476" font-size="17" textLength="61" lengthAdjust="spacingAndGlyphs">Cane Sugar</text>
<text class="p" x="2357" y="518" font-size="14" textLength="34" lengthAdjust="spacingAndGlyphs">0.97%</text>
<text x="2357" y="550" font-size="10" textLength="30" lengthAdjust="spacingAndGlyphs">Bananas</text>
<text class="p" x="2357" y="584" font-size="7" textLength="16" lengthAdjust="spacingAndGlyphs">0.71%</text>
<text x="2483" y="466" font-size="8" textLength="26" lengthAdjust="spacingAndGlyphs">Flowers</text>
<text x="2483" y="521" font-size="6" textLength="10" lengthAdjust="spacingAndGlyphs">Fish</text>
<text x="2483" y="528" font-size="6" textLength="8" lengthAdjust="spacingAndGlyphs">Oil</text>
</g>

<!-- Brown (iron billets) -->
<g class="br">
<rect x="2524" y="450" width="46" height="110"/>
<rect x="2570" y="450" width="43" height="110"/>
<rect x="2524" y="560" width="43" height="45"/><rect x="2524" y="605" width="43" height="35"/><rect x="2524" y="640" width="43" height="27"/>
<rect x="2567" y="560" width="23" height="45"/><rect x="2590" y="560" width="23" height="45"/>
<rect x="2567" y="605" width="23" height="35"/><rect x="2590" y="605" width="23" height="20"/><rect x="2590" y="625" width="23" height="15"/>
<rect x="2567" y="640" width="17" height="27"/><rect x="2584" y="640" width="15" height="13"/><rect x="2599" y="640" width="14" height="13"/><rect x="2584" y="653" width="29" height="14"/>
<text x="2531" y="477" font-size="15" textLength="25" lengthAdjust="spacingAndGlyphs">Iron</text>
<text x="2531" y="491" font-size="15" textLength="38" lengthAdjust="spacingAndGlyphs">Billets</text>
<text class="p" x="2531" y="547" font-size="12" textLength="30" lengthAdjust="spacingAndGlyphs">0.49%</text>
<text x="2576" y="477" font-size="15" textLength="33" lengthAdjust="spacingAndGlyphs">Ferro-</text>
<text x="2576" y="491" font-size="15" textLength="33" lengthAdjust="spacingAndGlyphs">Alloys</text>
<text class="p" x="2576" y="547" font-size="12" textLength="29" lengthAdjust="spacingAndGlyphs">0.42%</text>
<text x="2530" y="575" font-size="6" textLength="28" lengthAdjust="spacingAndGlyphs">Processed...</text>
<text x="2530" y="622" font-size="6" textLength="22" lengthAdjust="spacingAndGlyphs">Pig Iron...</text>
</g>

<!-- Pink (right) -->
<g class="pk">
<rect x="2613" y="450" width="48" height="105"/>
<rect x="2661" y="450" width="40" height="105"/>
<rect x="2613" y="555" width="52" height="63"/>
<rect x="2613" y="618" width="52" height="25"/><rect x="2613" y="643" width="52" height="24"/>
<rect x="2665" y="555" width="20" height="30"/><rect x="2685" y="555" width="16" height="30"/><rect x="2665" y="585" width="36" height="33"/>
<rect x="2665" y="618" width="18" height="25"/><rect x="2683" y="618" width="18" height="25"/>
<rect x="2665" y="643" width="12" height="12"/><rect x="2677" y="643" width="12" height="12"/><rect x="2689" y="643" width="12" height="12"/><rect x="2665" y="655" width="36" height="12"/>
<text x="2621" y="466" font-size="6" textLength="30" lengthAdjust="spacingAndGlyphs">Radioactive...</text>
<text x="2668" y="472" font-size="13" textLength="26" lengthAdjust="spacingAndGlyphs">5530</text>
<text class="p" x="2621" y="541" font-size="15" textLength="34" lengthAdjust="spacingAndGlyphs">0.47%</text>
<text class="p" x="2668" y="541" font-size="9" textLength="20" lengthAdjust="spacingAndGlyphs">0.30%</text>
<text x="2621" y="570" font-size="6" textLength="32" lengthAdjust="spacingAndGlyphs">Miscellaneous...</text>
<text class="p" x="2621" y="604" font-size="7" textLength="16" lengthAdjust="spacingAndGlyphs">0.32%</text>
</g>

<!-- Teal (right) -->
<g class="ft">
<rect x="2701" y="450" width="43" height="93"/>
<rect x="2744" y="450" width="33" height="93"/>
<rect x="2701" y="543" width="33" height="75"/>
<rect x="2734" y="543" width="24" height="75"/><rect x="2758" y="543" width="19" height="75"/>
<rect x="2701" y="618" width="40" height="49"/>
<rect x="2741" y="618" width="22" height="25"/><rect x="2763" y="618" width="14" height="25"/>
<rect x="2741" y="643" width="18" height="24"/><rect x="2759" y="643" width="18" height="24"/>
<text x="2706" y="477" font-size="17" textLength="33" lengthAdjust="spacingAndGlyphs">0360</text>
<text x="2750" y="466" font-size="7" textLength="14" lengthAdjust="spacingAndGlyphs">0814</text>
<text class="p" x="2706" y="530" font-size="10" textLength="22" lengthAdjust="spacingAndGlyphs">0.30%</text>
<text x="2706" y="558" font-size="6" textLength="12" lengthAdjust="spacingAndGlyphs">Frozen</text>
<text x="2706" y="565" font-size="6" textLength="8" lengthAdjust="spacingAndGlyphs">Fish</text>
<text class="p" x="2706" y="607" font-size="7" textLength="16" lengthAdjust="spacingAndGlyphs">0.29%</text>
</g>

<!-- Brown lead -->
<g class="br">
<rect x="2777" y="450" width="45" height="99"/>
<rect x="2822" y="450" width="29" height="99"/>
<rect x="2777" y="549" width="38" height="64"/>
<rect x="2815" y="549" width="36" height="64"/>
<rect x="2777" y="613" width="22" height="27"/><rect x="2799" y="613" width="22" height="27"/><rect x="2821" y="613" width="16" height="27"/><rect x="2837" y="613" width="14" height="27"/>
<rect x="2777" y="640" width="25" height="27"/><rect x="2802" y="640" width="17" height="27"/><rect x="2819" y="640" width="11" height="13"/><rect x="2830" y="640" width="11" height="13"/><rect x="2841" y="640" width="10" height="13"/><rect x="2819" y="653" width="32" height="14"/>
<text x="2784" y="477" font-size="15" textLength="28" lengthAdjust="spacingAndGlyphs">Lead</text>
<text x="2784" y="491" font-size="15" textLength="22" lengthAdjust="spacingAndGlyphs">Ore</text>
<text class="p" x="2784" y="533" font-size="10" textLength="24" lengthAdjust="spacingAndGlyphs">0.40%</text>
<text x="2784" y="567" font-size="10" textLength="20" lengthAdjust="spacingAndGlyphs">2602</text>
<text x="2820" y="567" font-size="10" textLength="20" lengthAdjust="spacingAndGlyphs">6841</text>
<text class="p" x="2784" y="601" font-size="7" textLength="16" lengthAdjust="spacingAndGlyphs">0.22%</text>
</g>

<!-- Bovine meat -->
<g class="py">
<rect x="2350" y="593" width="111" height="75"/>
<rect x="2350" y="668" width="111" height="60"/>
<rect x="2461" y="593" width="32" height="75"/><rect x="2493" y="593" width="31" height="75"/>
<rect x="2461" y="668" width="35" height="41"/><rect x="2496" y="668" width="28" height="22"/><rect x="2496" y="690" width="14" height="19"/><rect x="2510" y="690" width="14" height="19"/>
<rect x="2461" y="709" width="35" height="19"/><rect x="2496" y="709" width="14" height="19"/><rect x="2510" y="709" width="14" height="19"/>
<text x="2357" y="614" font-size="13" textLength="55" lengthAdjust="spacingAndGlyphs">Bovine Meat</text>
<text class="p" x="2357" y="653" font-size="11" textLength="27" lengthAdjust="spacingAndGlyphs">0.77%</text>
<text x="2468" y="611" font-size="9" textLength="18" lengthAdjust="spacingAndGlyphs">0149</text>
<text x="2500" y="612" font-size="8" textLength="10" lengthAdjust="spacingAndGlyphs">Pig</text>
<text x="2500" y="620" font-size="8" textLength="16" lengthAdjust="spacingAndGlyphs">Meat</text>
<text x="2357" y="684" font-size="11" textLength="45" lengthAdjust="spacingAndGlyphs">Poultry Meat</text>
<text class="p" x="2357" y="714" font-size="8" textLength="18" lengthAdjust="spacingAndGlyphs">0.40%</text>
<text x="2468" y="686" font-size="7" textLength="18" lengthAdjust="spacingAndGlyphs">Bovine</text>
</g>

<!-- Gray unclassified right -->
<g class="y">
<rect x="2350" y="728" width="101" height="124"/>
<rect x="2451" y="728" width="26" height="48"/><rect x="2477" y="728" width="26" height="48"/><rect x="2503" y="728" width="21" height="48"/>
<rect x="2451" y="776" width="35" height="27"/><rect x="2486" y="776" width="38" height="27"/>
<rect x="2451" y="803" width="35" height="25"/><rect x="2451" y="828" width="35" height="24"/>
<rect x="2486" y="803" width="15" height="16"/><rect x="2501" y="803" width="12" height="16"/><rect x="2513" y="803" width="11" height="16"/>
<rect x="2486" y="819" width="15" height="17"/><rect x="2501" y="819" width="23" height="17"/>
<rect x="2486" y="836" width="10" height="16"/><rect x="2496" y="836" width="10" height="16"/><rect x="2506" y="836" width="9" height="16"/><rect x="2515" y="836" width="9" height="16"/>
<text x="2357" y="753" font-size="14" textLength="64" lengthAdjust="spacingAndGlyphs">Unclassified</text>
<text x="2357" y="767" font-size="14" textLength="64" lengthAdjust="spacingAndGlyphs">Transactions</text>
<text class="p" x="2357" y="832" font-size="24" textLength="51" lengthAdjust="spacingAndGlyphs">1.2%</text>
</g>

<!-- Green right -->
<g class="g">
<rect x="2350" y="852" width="50" height="69"/>
<rect x="2350" y="921" width="50" height="48"/>
<rect x="2400" y="852" width="50" height="48"/>
<rect x="2400" y="900" width="50" height="37"/>
<rect x="2400" y="937" width="50" height="32"/>
<rect x="2450" y="852" width="25" height="47"/><rect x="2475" y="852" width="24" height="47"/><rect x="2499" y="852" width="25" height="47"/>
<rect x="2450" y="899" width="25" height="35"/><rect x="2475" y="899" width="25" height="35"/><rect x="2500" y="899" width="24" height="35"/>
<rect x="2450" y="934" width="18" height="35"/><rect x="2468" y="934" width="16" height="17"/><rect x="2484" y="934" width="14" height="17"/><rect x="2498" y="934" width="13" height="17"/><rect x="2511" y="934" width="13" height="17"/>
<rect x="2468" y="951" width="28" height="18"/><rect x="2496" y="951" width="28" height="18"/>
<text x="2357" y="873" font-size="11" textLength="22" lengthAdjust="spacingAndGlyphs">8462</text>
<text class="p" x="2357" y="908" font-size="9" textLength="20" lengthAdjust="spacingAndGlyphs">0.33%</text>
<text x="2357" y="938" font-size="7" textLength="24" lengthAdjust="spacingAndGlyphs">Footwear</text>
<text x="2406" y="866" font-size="6" textLength="26" lengthAdjust="spacingAndGlyphs">Men'S Pants</text>
<text x="2406" y="914" font-size="6" textLength="18" lengthAdjust="spacingAndGlyphs">Cotton</text>
<text x="2406" y="921" font-size="6" textLength="24" lengthAdjust="spacingAndGlyphs">Outerwear</text>
<text x="2406" y="951" font-size="6" textLength="34" lengthAdjust="spacingAndGlyphs">Miscellaneous...</text>
</g>

<!-- Off white wood pulp -->
<g class="ow">
<rect x="2524" y="667" width="73" height="112"/>
<rect x="2597" y="667" width="24" height="50"/>
<rect x="2597" y="717" width="12" height="20"/><rect x="2609" y="717" width="12" height="20"/>
<rect x="2597" y="737" width="24" height="22"/>
<rect x="2597" y="759" width="12" height="20"/><rect x="2609" y="759" width="12" height="20"/>
<text x="2530" y="688" font-size="10" textLength="50" lengthAdjust="spacingAndGlyphs">Chemical Wood</text>
<text x="2530" y="698" font-size="10" textLength="52" lengthAdjust="spacingAndGlyphs">Pulp of Soda or</text>
<text x="2530" y="708" font-size="10" textLength="32" lengthAdjust="spacingAndGlyphs">Sulphate</text>
<text class="p" x="2530" y="762" font-size="20" textLength="49" lengthAdjust="spacingAndGlyphs">0.79%</text>
</g>

<!-- Olive tan -->
<g class="ot">
<rect x="2524" y="779" width="73" height="68"/>
<rect x="2524" y="847" width="73" height="36"/>
<rect x="2597" y="779" width="24" height="60"/>
<rect x="2597" y="839" width="24" height="44"/>
<text x="2530" y="797" font-size="7" textLength="45" lengthAdjust="spacingAndGlyphs">Acrylic Alcohols</text>
<text class="p" x="2530" y="834" font-size="8" textLength="18" lengthAdjust="spacingAndGlyphs">0.47%</text>
<text x="2530" y="867" font-size="11" textLength="18" lengthAdjust="spacingAndGlyphs">Beer</text>
</g>

<!-- Coal -->
<g class="dk">
<rect x="2524" y="883" width="90" height="86"/>
<rect x="2614" y="883" width="7" height="86"/>
<text x="2530" y="910" font-size="17" textLength="27" lengthAdjust="spacingAndGlyphs">Coal</text>
<text class="p" x="2530" y="955" font-size="14" textLength="37" lengthAdjust="spacingAndGlyphs">0.74%</text>
</g>

<!-- Raw cotton -->
<g class="kh">
<rect x="2621" y="667" width="45" height="61"/>
<rect x="2666" y="667" width="25" height="40"/><rect x="2691" y="667" width="22" height="40"/>
<rect x="2666" y="707" width="20" height="21"/><rect x="2686" y="707" width="16" height="21"/><rect x="2702" y="707" width="11" height="21"/>
<rect x="2621" y="728" width="45" height="26"/>
<rect x="2666" y="728" width="15" height="26"/><rect x="2681" y="728" width="15" height="13"/><rect x="2696" y="728" width="17" height="13"/><rect x="2681" y="741" width="32" height="13"/>
<text x="2629" y="682" font-size="6" textLength="24" lengthAdjust="spacingAndGlyphs">Raw Cotton</text>
<text class="p" x="2629" y="715" font-size="7" textLength="16" lengthAdjust="spacingAndGlyphs">0.33%</text>
</g>

<!-- Light aqua -->
<g class="la">
<rect x="2621" y="754" width="53" height="50"/>
<rect x="2621" y="804" width="53" height="26"/>
<rect x="2674" y="754" width="20" height="50"/><rect x="2694" y="754" width="19" height="50"/>
<rect x="2674" y="804" width="20" height="13"/><rect x="2694" y="804" width="19" height="13"/><rect x="2674" y="817" width="39" height="13"/>
<text x="2629" y="774" font-size="10" textLength="30" lengthAdjust="spacingAndGlyphs">Large...</text>
<text x="2629" y="815" font-size="6" textLength="30" lengthAdjust="spacingAndGlyphs">Parts of Sea...</text>
</g>

<!-- Light pink -->
<g class="lp">
<rect x="2621" y="830" width="57" height="46"/>
<rect x="2678" y="830" width="35" height="46"/>
<rect x="2621" y="876" width="57" height="26"/><rect x="2678" y="876" width="35" height="26"/>
<text x="2629" y="849" font-size="11" textLength="43" lengthAdjust="spacingAndGlyphs">Polyethylene</text>
<text x="2688" y="849" font-size="10" textLength="20" lengthAdjust="spacingAndGlyphs">5634</text>
</g>

<!-- Salmon red right -->
<g class="sr">
<rect x="2621" y="902" width="45" height="67"/>
<rect x="2666" y="902" width="18" height="45"/><rect x="2684" y="902" width="14" height="45"/><rect x="2698" y="902" width="15" height="45"/>
<rect x="2666" y="947" width="47" height="22"/>
<text x="2629" y="918" font-size="6" textLength="20" lengthAdjust="spacingAndGlyphs">Standard</text>
<text x="2629" y="925" font-size="6" textLength="18" lengthAdjust="spacingAndGlyphs">Records</text>
</g>

<!-- Small right cluster -->
<g class="lv">
<rect x="2713" y="667" width="26" height="62"/><rect x="2739" y="667" width="23" height="62"/>
<rect x="2713" y="729" width="20" height="35"/><rect x="2733" y="729" width="15" height="35"/><rect x="2748" y="729" width="14" height="35"/>
<rect x="2713" y="764" width="26" height="20"/><rect x="2739" y="764" width="23" height="20"/><rect x="2713" y="784" width="49" height="15"/>
</g>
<g class="mb">
<rect x="2762" y="667" width="43" height="48"/>
<rect x="2762" y="715" width="25" height="42"/><rect x="2787" y="715" width="18" height="42"/>
<rect x="2762" y="757" width="22" height="22"/><rect x="2784" y="757" width="11" height="22"/><rect x="2795" y="757" width="10" height="22"/>
<rect x="2762" y="779" width="43" height="20"/>
<text x="2768" y="683" font-size="6" textLength="12" lengthAdjust="spacingAndGlyphs">ITPs</text>
</g>
<g class="or">
<rect x="2805" y="667" width="46" height="75"/>
<rect x="2805" y="742" width="25" height="57"/><rect x="2830" y="742" width="21" height="57"/>
<text x="2812" y="683" font-size="6" textLength="24" lengthAdjust="spacingAndGlyphs">Citric and</text>
<text x="2812" y="690" font-size="6" textLength="20" lengthAdjust="spacingAndGlyphs">Residue</text>
<text class="p" x="2812" y="730" font-size="8" textLength="20" lengthAdjust="spacingAndGlyphs">0.20%</text>
</g>
<g class="lg">
<rect x="2713" y="799" width="58" height="69"/>
<rect x="2771" y="799" width="22" height="38"/>
<rect x="2771" y="837" width="11" height="16"/><rect x="2782" y="837" width="11" height="16"/><rect x="2771" y="853" width="22" height="15"/>
<text x="2721" y="817" font-size="6" textLength="30" lengthAdjust="spacingAndGlyphs">Bovine and...</text>
<text class="p" x="2721" y="853" font-size="7" textLength="16" lengthAdjust="spacingAndGlyphs">0.38%</text>
</g>
<g class="ok">
<rect x="2713" y="868" width="62" height="61"/>
<rect x="2775" y="868" width="18" height="30"/><rect x="2775" y="898" width="18" height="15"/><rect x="2775" y="913" width="18" height="16"/>
<text x="2721" y="883" font-size="6" textLength="40" lengthAdjust="spacingAndGlyphs">Whipped Cellulose</text>
<text class="p" x="2721" y="917" font-size="7" textLength="16" lengthAdjust="spacingAndGlyphs">0.37%</text>
</g>
<g class="yb">
<rect x="2713" y="929" width="36" height="40"/><rect x="2749" y="929" width="25" height="40"/><rect x="2774" y="929" width="19" height="40"/>
<text x="2721" y="949" font-size="11" textLength="20" lengthAdjust="spacingAndGlyphs">0224</text>
</g>
<g class="sa">
<rect x="2793" y="799" width="14" height="48"/><rect x="2807" y="799" width="15" height="48"/>
<rect x="2793" y="847" width="14" height="28"/><rect x="2807" y="847" width="15" height="28"/>
<rect x="2793" y="875" width="29" height="20"/>
</g>
<g class="dg">
<rect x="2822" y="799" width="15" height="40"/><rect x="2837" y="799" width="14" height="40"/>
<rect x="2822" y="839" width="15" height="30"/><rect x="2837" y="839" width="14" height="30"/>
<rect x="2822" y="869" width="29" height="26"/>
</g>
<g class="nv"><rect x="2793" y="895" width="40" height="49"/></g>
<g class="bn"><rect x="2833" y="895" width="18" height="49"/></g>
<g class="pu"><rect x="2793" y="944" width="58" height="25"/></g>

</svg>
</body></html>
